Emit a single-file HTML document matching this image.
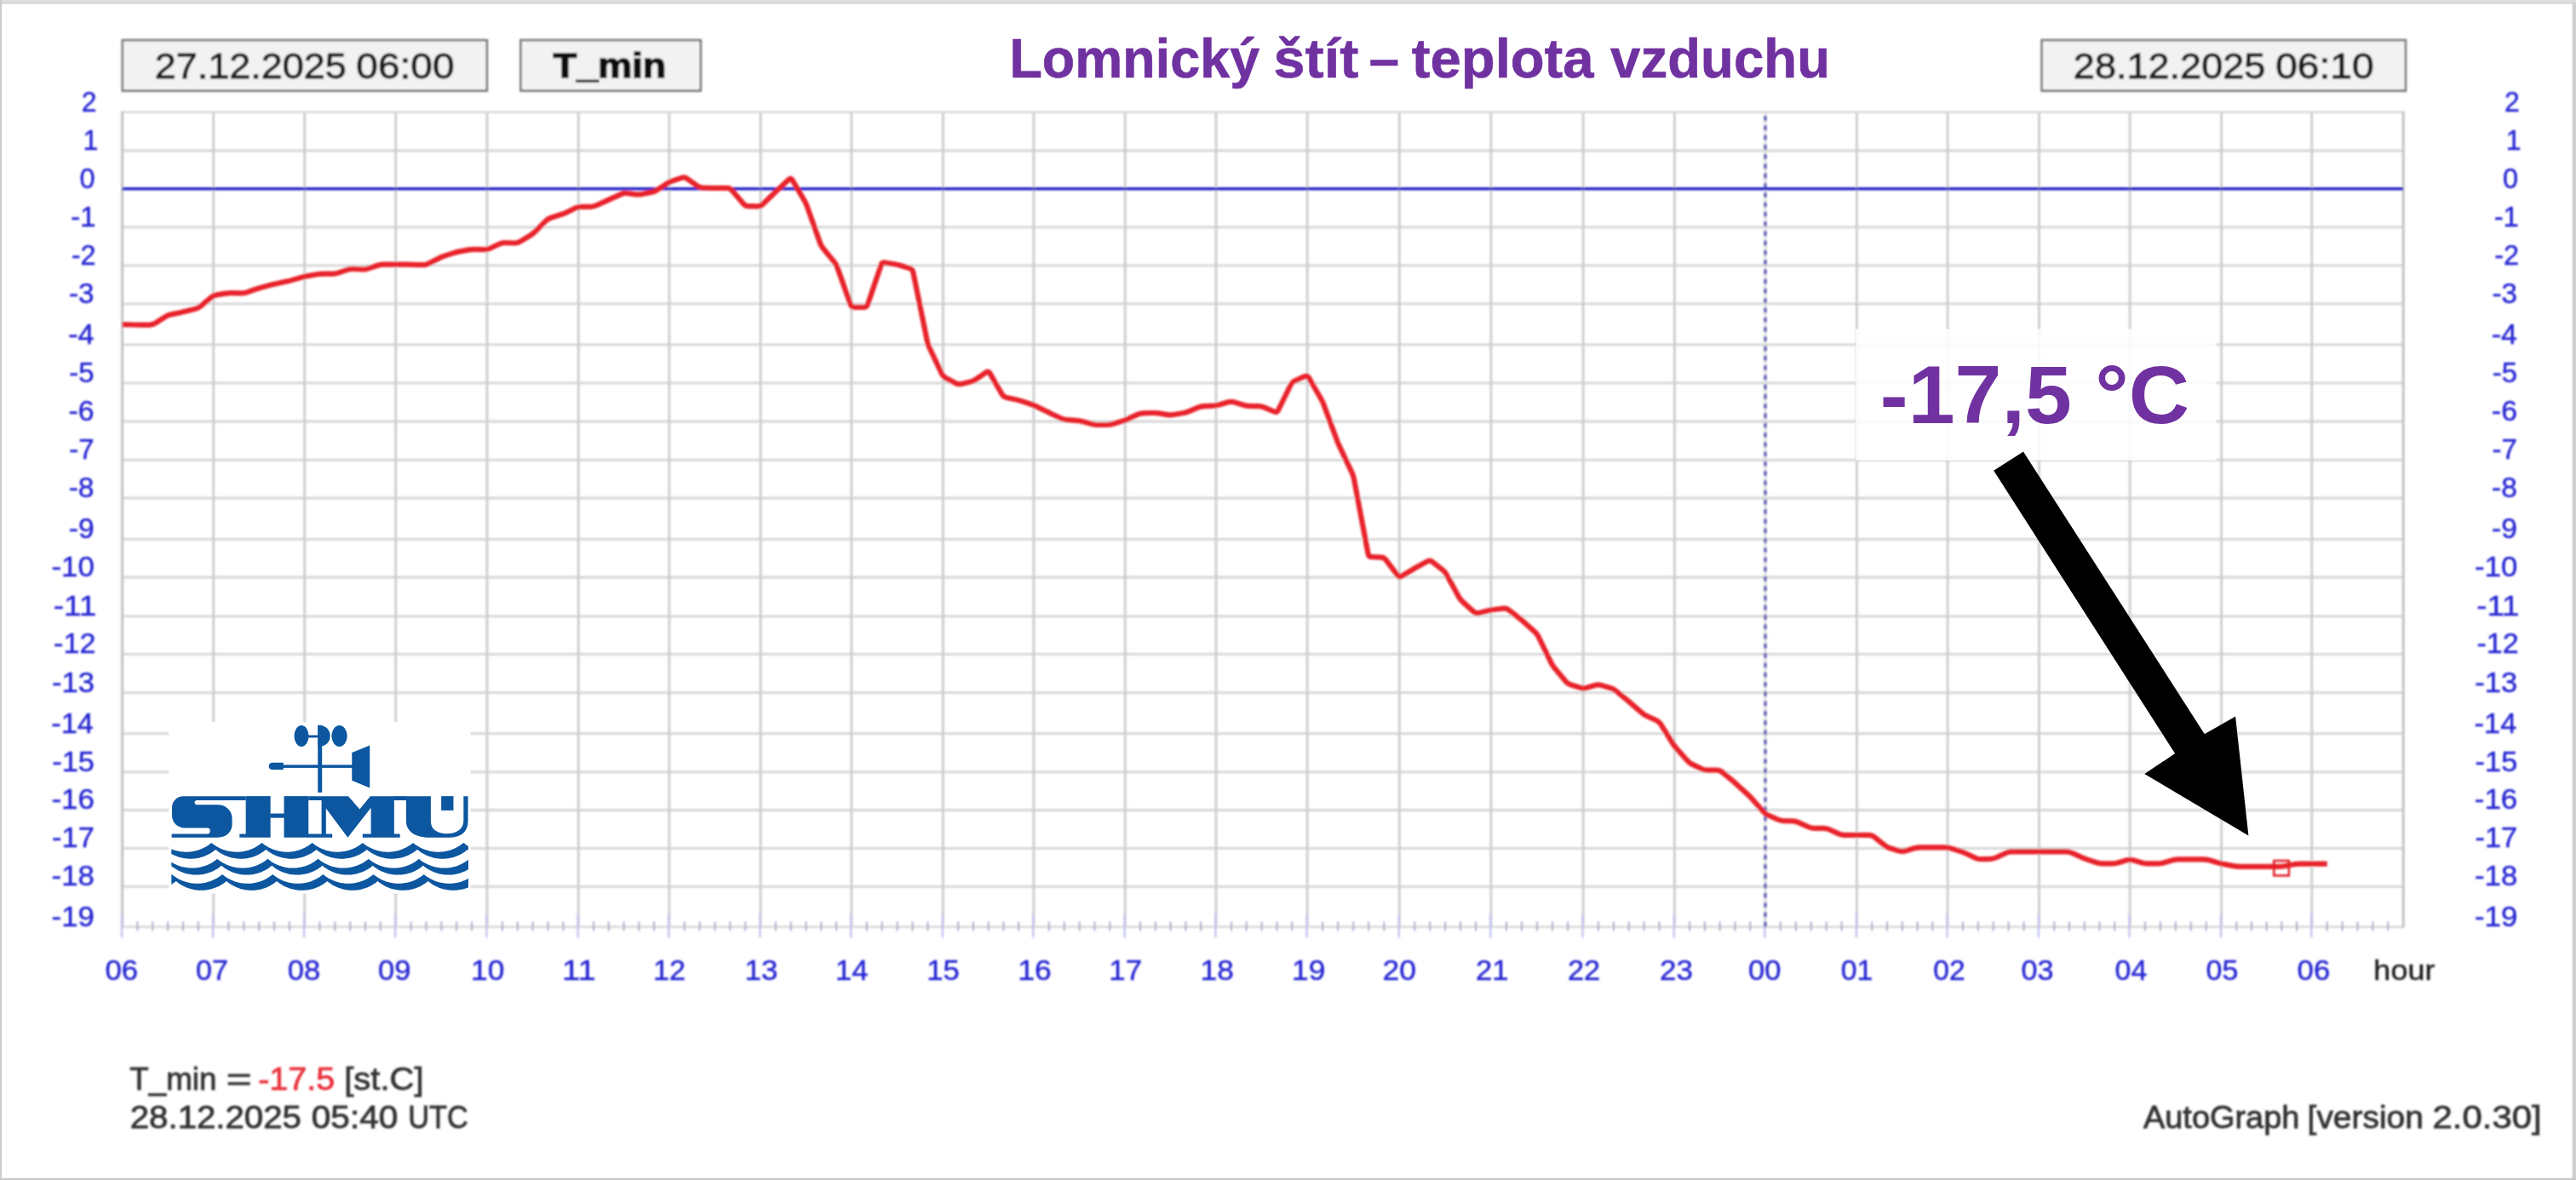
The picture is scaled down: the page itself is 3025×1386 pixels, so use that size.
<!DOCTYPE html>
<html><head><meta charset="utf-8"><title>Lomnický štít – teplota vzduchu</title>
<style>
html,body{margin:0;padding:0;background:#fff;}
body{width:3025px;height:1386px;overflow:hidden;font-family:"Liberation Sans",sans-serif;}
svg{display:block;font-family:"Liberation Sans",sans-serif;}
</style></head><body>
<svg width="3025" height="1386" viewBox="0 0 3025 1386">
<defs><filter id="soft" x="0" y="0" width="3025" height="1386" filterUnits="userSpaceOnUse"><feGaussianBlur stdDeviation="0.85"/></filter><filter id="soft2" x="0" y="0" width="3025" height="1386" filterUnits="userSpaceOnUse"><feGaussianBlur stdDeviation="0.45"/></filter></defs>
<rect x="0" y="0" width="3025" height="1386" fill="#ffffff"/>
<g id="frame">
<rect x="0" y="0" width="3025" height="2.6" fill="#dfdfdf"/>
<rect x="0" y="2.6" width="3025" height="1.8" fill="#cbcbcb"/>
<rect x="0" y="0" width="2" height="1386" fill="#cbcbcb"/>
<rect x="3020.6" y="3" width="4.4" height="1386" fill="#d0d0d0"/>
<rect x="0" y="1383.8" width="3025" height="2.2" fill="#c8c8c8"/>
</g>
<g id="chart" filter="url(#soft)">
<g id="grid" fill="none">
<line x1="143.6" y1="177.0" x2="2822.2" y2="177.0" stroke="#d5d5d5" stroke-width="2.8"/>
<line x1="143.6" y1="266.8" x2="2822.2" y2="266.8" stroke="#d5d5d5" stroke-width="2.8"/>
<line x1="143.6" y1="311.8" x2="2822.2" y2="311.8" stroke="#d5d5d5" stroke-width="2.8"/>
<line x1="143.6" y1="356.8" x2="2822.2" y2="356.8" stroke="#d5d5d5" stroke-width="2.8"/>
<line x1="143.6" y1="404.8" x2="2822.2" y2="404.8" stroke="#d5d5d5" stroke-width="2.8"/>
<line x1="143.6" y1="449.8" x2="2822.2" y2="449.8" stroke="#d5d5d5" stroke-width="2.8"/>
<line x1="143.6" y1="495.0" x2="2822.2" y2="495.0" stroke="#d5d5d5" stroke-width="2.8"/>
<line x1="143.6" y1="540.3" x2="2822.2" y2="540.3" stroke="#d5d5d5" stroke-width="2.8"/>
<line x1="143.6" y1="585.0" x2="2822.2" y2="585.0" stroke="#d5d5d5" stroke-width="2.8"/>
<line x1="143.6" y1="633.3" x2="2822.2" y2="633.3" stroke="#d5d5d5" stroke-width="2.8"/>
<line x1="143.6" y1="678.0" x2="2822.2" y2="678.0" stroke="#d5d5d5" stroke-width="2.8"/>
<line x1="143.6" y1="723.8" x2="2822.2" y2="723.8" stroke="#d5d5d5" stroke-width="2.8"/>
<line x1="143.6" y1="768.3" x2="2822.2" y2="768.3" stroke="#d5d5d5" stroke-width="2.8"/>
<line x1="143.6" y1="813.7" x2="2822.2" y2="813.7" stroke="#d5d5d5" stroke-width="2.8"/>
<line x1="143.6" y1="861.7" x2="2822.2" y2="861.7" stroke="#d5d5d5" stroke-width="2.8"/>
<line x1="143.6" y1="906.8" x2="2822.2" y2="906.8" stroke="#d5d5d5" stroke-width="2.8"/>
<line x1="143.6" y1="951.5" x2="2822.2" y2="951.5" stroke="#d5d5d5" stroke-width="2.8"/>
<line x1="143.6" y1="996.3" x2="2822.2" y2="996.3" stroke="#d5d5d5" stroke-width="2.8"/>
<line x1="143.6" y1="1041.3" x2="2822.2" y2="1041.3" stroke="#d5d5d5" stroke-width="2.8"/>
<line x1="250.7" y1="131.7" x2="250.7" y2="1088.8" stroke="#cccccc" stroke-width="2.8"/>
<line x1="357.7" y1="131.7" x2="357.7" y2="1088.8" stroke="#cccccc" stroke-width="2.8"/>
<line x1="464.7" y1="131.7" x2="464.7" y2="1088.8" stroke="#cccccc" stroke-width="2.8"/>
<line x1="572.0" y1="131.7" x2="572.0" y2="1088.8" stroke="#cccccc" stroke-width="2.8"/>
<line x1="679.3" y1="131.7" x2="679.3" y2="1088.8" stroke="#cccccc" stroke-width="2.8"/>
<line x1="785.9" y1="131.7" x2="785.9" y2="1088.8" stroke="#cccccc" stroke-width="2.8"/>
<line x1="893.1" y1="131.7" x2="893.1" y2="1088.8" stroke="#cccccc" stroke-width="2.8"/>
<line x1="999.9" y1="131.7" x2="999.9" y2="1088.8" stroke="#cccccc" stroke-width="2.8"/>
<line x1="1107.4" y1="131.7" x2="1107.4" y2="1088.8" stroke="#cccccc" stroke-width="2.8"/>
<line x1="1213.9" y1="131.7" x2="1213.9" y2="1088.8" stroke="#cccccc" stroke-width="2.8"/>
<line x1="1321.2" y1="131.7" x2="1321.2" y2="1088.8" stroke="#cccccc" stroke-width="2.8"/>
<line x1="1428.0" y1="131.7" x2="1428.0" y2="1088.8" stroke="#cccccc" stroke-width="2.8"/>
<line x1="1535.2" y1="131.7" x2="1535.2" y2="1088.8" stroke="#cccccc" stroke-width="2.8"/>
<line x1="1643.3" y1="131.7" x2="1643.3" y2="1088.8" stroke="#cccccc" stroke-width="2.8"/>
<line x1="1750.9" y1="131.7" x2="1750.9" y2="1088.8" stroke="#cccccc" stroke-width="2.8"/>
<line x1="1859.1" y1="131.7" x2="1859.1" y2="1088.8" stroke="#cccccc" stroke-width="2.8"/>
<line x1="1966.4" y1="131.7" x2="1966.4" y2="1088.8" stroke="#cccccc" stroke-width="2.8"/>
<line x1="2180.5" y1="131.7" x2="2180.5" y2="1088.8" stroke="#cccccc" stroke-width="2.8"/>
<line x1="2287.1" y1="131.7" x2="2287.1" y2="1088.8" stroke="#cccccc" stroke-width="2.8"/>
<line x1="2394.5" y1="131.7" x2="2394.5" y2="1088.8" stroke="#cccccc" stroke-width="2.8"/>
<line x1="2501.1" y1="131.7" x2="2501.1" y2="1088.8" stroke="#cccccc" stroke-width="2.8"/>
<line x1="2608.6" y1="131.7" x2="2608.6" y2="1088.8" stroke="#cccccc" stroke-width="2.8"/>
<line x1="2714.8" y1="131.7" x2="2714.8" y2="1088.8" stroke="#cccccc" stroke-width="2.8"/>
<line x1="143.6" y1="131.7" x2="2822.2" y2="131.7" stroke="#d8d8d8" stroke-width="2.6"/>
<line x1="143.6" y1="1088.8" x2="2822.2" y2="1088.8" stroke="#d8d8d8" stroke-width="2.6"/>
<line x1="143.6" y1="130.7" x2="143.6" y2="1089.8" stroke="#c2c2c2" stroke-width="3"/>
<line x1="2822.2" y1="130.7" x2="2822.2" y2="1089.8" stroke="#c2c2c2" stroke-width="3"/>
</g>
<g id="ticks">
<line x1="143.0" y1="1073" x2="143.0" y2="1101.5" stroke="#c0c0ee" stroke-width="2.3"/>
<line x1="250.1" y1="1073" x2="250.1" y2="1101.5" stroke="#c0c0ee" stroke-width="2.3"/>
<line x1="357.1" y1="1073" x2="357.1" y2="1101.5" stroke="#c0c0ee" stroke-width="2.3"/>
<line x1="464.1" y1="1073" x2="464.1" y2="1101.5" stroke="#c0c0ee" stroke-width="2.3"/>
<line x1="571.4" y1="1073" x2="571.4" y2="1101.5" stroke="#c0c0ee" stroke-width="2.3"/>
<line x1="678.7" y1="1073" x2="678.7" y2="1101.5" stroke="#c0c0ee" stroke-width="2.3"/>
<line x1="785.3" y1="1073" x2="785.3" y2="1101.5" stroke="#c0c0ee" stroke-width="2.3"/>
<line x1="892.5" y1="1073" x2="892.5" y2="1101.5" stroke="#c0c0ee" stroke-width="2.3"/>
<line x1="999.3" y1="1073" x2="999.3" y2="1101.5" stroke="#c0c0ee" stroke-width="2.3"/>
<line x1="1106.8" y1="1073" x2="1106.8" y2="1101.5" stroke="#c0c0ee" stroke-width="2.3"/>
<line x1="1213.3" y1="1073" x2="1213.3" y2="1101.5" stroke="#c0c0ee" stroke-width="2.3"/>
<line x1="1320.6" y1="1073" x2="1320.6" y2="1101.5" stroke="#c0c0ee" stroke-width="2.3"/>
<line x1="1427.4" y1="1073" x2="1427.4" y2="1101.5" stroke="#c0c0ee" stroke-width="2.3"/>
<line x1="1534.6" y1="1073" x2="1534.6" y2="1101.5" stroke="#c0c0ee" stroke-width="2.3"/>
<line x1="1642.7" y1="1073" x2="1642.7" y2="1101.5" stroke="#c0c0ee" stroke-width="2.3"/>
<line x1="1750.3" y1="1073" x2="1750.3" y2="1101.5" stroke="#c0c0ee" stroke-width="2.3"/>
<line x1="1858.5" y1="1073" x2="1858.5" y2="1101.5" stroke="#c0c0ee" stroke-width="2.3"/>
<line x1="1965.8" y1="1073" x2="1965.8" y2="1101.5" stroke="#c0c0ee" stroke-width="2.3"/>
<line x1="2072.4" y1="1073" x2="2072.4" y2="1101.5" stroke="#c0c0ee" stroke-width="2.3"/>
<line x1="2179.9" y1="1073" x2="2179.9" y2="1101.5" stroke="#c0c0ee" stroke-width="2.3"/>
<line x1="2286.5" y1="1073" x2="2286.5" y2="1101.5" stroke="#c0c0ee" stroke-width="2.3"/>
<line x1="2393.9" y1="1073" x2="2393.9" y2="1101.5" stroke="#c0c0ee" stroke-width="2.3"/>
<line x1="2500.5" y1="1073" x2="2500.5" y2="1101.5" stroke="#c0c0ee" stroke-width="2.3"/>
<line x1="2608.0" y1="1073" x2="2608.0" y2="1101.5" stroke="#c0c0ee" stroke-width="2.3"/>
<line x1="2714.2" y1="1073" x2="2714.2" y2="1101.5" stroke="#c0c0ee" stroke-width="2.3"/>
<line x1="161.4" y1="1082.5" x2="161.4" y2="1093.5" stroke="#a9a9cc" stroke-width="1.9"/>
<line x1="179.3" y1="1082.5" x2="179.3" y2="1093.5" stroke="#a9a9cc" stroke-width="1.9"/>
<line x1="197.1" y1="1082.5" x2="197.1" y2="1093.5" stroke="#a9a9cc" stroke-width="1.9"/>
<line x1="215.0" y1="1082.5" x2="215.0" y2="1093.5" stroke="#a9a9cc" stroke-width="1.9"/>
<line x1="232.8" y1="1082.5" x2="232.8" y2="1093.5" stroke="#a9a9cc" stroke-width="1.9"/>
<line x1="268.5" y1="1082.5" x2="268.5" y2="1093.5" stroke="#a9a9cc" stroke-width="1.9"/>
<line x1="286.4" y1="1082.5" x2="286.4" y2="1093.5" stroke="#a9a9cc" stroke-width="1.9"/>
<line x1="304.2" y1="1082.5" x2="304.2" y2="1093.5" stroke="#a9a9cc" stroke-width="1.9"/>
<line x1="322.0" y1="1082.5" x2="322.0" y2="1093.5" stroke="#a9a9cc" stroke-width="1.9"/>
<line x1="339.9" y1="1082.5" x2="339.9" y2="1093.5" stroke="#a9a9cc" stroke-width="1.9"/>
<line x1="375.5" y1="1082.5" x2="375.5" y2="1093.5" stroke="#a9a9cc" stroke-width="1.9"/>
<line x1="393.4" y1="1082.5" x2="393.4" y2="1093.5" stroke="#a9a9cc" stroke-width="1.9"/>
<line x1="411.2" y1="1082.5" x2="411.2" y2="1093.5" stroke="#a9a9cc" stroke-width="1.9"/>
<line x1="429.0" y1="1082.5" x2="429.0" y2="1093.5" stroke="#a9a9cc" stroke-width="1.9"/>
<line x1="446.9" y1="1082.5" x2="446.9" y2="1093.5" stroke="#a9a9cc" stroke-width="1.9"/>
<line x1="482.6" y1="1082.5" x2="482.6" y2="1093.5" stroke="#a9a9cc" stroke-width="1.9"/>
<line x1="500.5" y1="1082.5" x2="500.5" y2="1093.5" stroke="#a9a9cc" stroke-width="1.9"/>
<line x1="518.4" y1="1082.5" x2="518.4" y2="1093.5" stroke="#a9a9cc" stroke-width="1.9"/>
<line x1="536.2" y1="1082.5" x2="536.2" y2="1093.5" stroke="#a9a9cc" stroke-width="1.9"/>
<line x1="554.1" y1="1082.5" x2="554.1" y2="1093.5" stroke="#a9a9cc" stroke-width="1.9"/>
<line x1="589.9" y1="1082.5" x2="589.9" y2="1093.5" stroke="#a9a9cc" stroke-width="1.9"/>
<line x1="607.8" y1="1082.5" x2="607.8" y2="1093.5" stroke="#a9a9cc" stroke-width="1.9"/>
<line x1="625.6" y1="1082.5" x2="625.6" y2="1093.5" stroke="#a9a9cc" stroke-width="1.9"/>
<line x1="643.5" y1="1082.5" x2="643.5" y2="1093.5" stroke="#a9a9cc" stroke-width="1.9"/>
<line x1="661.4" y1="1082.5" x2="661.4" y2="1093.5" stroke="#a9a9cc" stroke-width="1.9"/>
<line x1="697.1" y1="1082.5" x2="697.1" y2="1093.5" stroke="#a9a9cc" stroke-width="1.9"/>
<line x1="714.8" y1="1082.5" x2="714.8" y2="1093.5" stroke="#a9a9cc" stroke-width="1.9"/>
<line x1="732.6" y1="1082.5" x2="732.6" y2="1093.5" stroke="#a9a9cc" stroke-width="1.9"/>
<line x1="750.4" y1="1082.5" x2="750.4" y2="1093.5" stroke="#a9a9cc" stroke-width="1.9"/>
<line x1="768.1" y1="1082.5" x2="768.1" y2="1093.5" stroke="#a9a9cc" stroke-width="1.9"/>
<line x1="803.8" y1="1082.5" x2="803.8" y2="1093.5" stroke="#a9a9cc" stroke-width="1.9"/>
<line x1="821.6" y1="1082.5" x2="821.6" y2="1093.5" stroke="#a9a9cc" stroke-width="1.9"/>
<line x1="839.5" y1="1082.5" x2="839.5" y2="1093.5" stroke="#a9a9cc" stroke-width="1.9"/>
<line x1="857.4" y1="1082.5" x2="857.4" y2="1093.5" stroke="#a9a9cc" stroke-width="1.9"/>
<line x1="875.2" y1="1082.5" x2="875.2" y2="1093.5" stroke="#a9a9cc" stroke-width="1.9"/>
<line x1="910.9" y1="1082.5" x2="910.9" y2="1093.5" stroke="#a9a9cc" stroke-width="1.9"/>
<line x1="928.7" y1="1082.5" x2="928.7" y2="1093.5" stroke="#a9a9cc" stroke-width="1.9"/>
<line x1="946.5" y1="1082.5" x2="946.5" y2="1093.5" stroke="#a9a9cc" stroke-width="1.9"/>
<line x1="964.3" y1="1082.5" x2="964.3" y2="1093.5" stroke="#a9a9cc" stroke-width="1.9"/>
<line x1="982.1" y1="1082.5" x2="982.1" y2="1093.5" stroke="#a9a9cc" stroke-width="1.9"/>
<line x1="1017.8" y1="1082.5" x2="1017.8" y2="1093.5" stroke="#a9a9cc" stroke-width="1.9"/>
<line x1="1035.7" y1="1082.5" x2="1035.7" y2="1093.5" stroke="#a9a9cc" stroke-width="1.9"/>
<line x1="1053.7" y1="1082.5" x2="1053.7" y2="1093.5" stroke="#a9a9cc" stroke-width="1.9"/>
<line x1="1071.6" y1="1082.5" x2="1071.6" y2="1093.5" stroke="#a9a9cc" stroke-width="1.9"/>
<line x1="1089.5" y1="1082.5" x2="1089.5" y2="1093.5" stroke="#a9a9cc" stroke-width="1.9"/>
<line x1="1125.2" y1="1082.5" x2="1125.2" y2="1093.5" stroke="#a9a9cc" stroke-width="1.9"/>
<line x1="1142.9" y1="1082.5" x2="1142.9" y2="1093.5" stroke="#a9a9cc" stroke-width="1.9"/>
<line x1="1160.7" y1="1082.5" x2="1160.7" y2="1093.5" stroke="#a9a9cc" stroke-width="1.9"/>
<line x1="1178.4" y1="1082.5" x2="1178.4" y2="1093.5" stroke="#a9a9cc" stroke-width="1.9"/>
<line x1="1196.2" y1="1082.5" x2="1196.2" y2="1093.5" stroke="#a9a9cc" stroke-width="1.9"/>
<line x1="1231.8" y1="1082.5" x2="1231.8" y2="1093.5" stroke="#a9a9cc" stroke-width="1.9"/>
<line x1="1249.7" y1="1082.5" x2="1249.7" y2="1093.5" stroke="#a9a9cc" stroke-width="1.9"/>
<line x1="1267.6" y1="1082.5" x2="1267.6" y2="1093.5" stroke="#a9a9cc" stroke-width="1.9"/>
<line x1="1285.4" y1="1082.5" x2="1285.4" y2="1093.5" stroke="#a9a9cc" stroke-width="1.9"/>
<line x1="1303.3" y1="1082.5" x2="1303.3" y2="1093.5" stroke="#a9a9cc" stroke-width="1.9"/>
<line x1="1339.0" y1="1082.5" x2="1339.0" y2="1093.5" stroke="#a9a9cc" stroke-width="1.9"/>
<line x1="1356.8" y1="1082.5" x2="1356.8" y2="1093.5" stroke="#a9a9cc" stroke-width="1.9"/>
<line x1="1374.6" y1="1082.5" x2="1374.6" y2="1093.5" stroke="#a9a9cc" stroke-width="1.9"/>
<line x1="1392.4" y1="1082.5" x2="1392.4" y2="1093.5" stroke="#a9a9cc" stroke-width="1.9"/>
<line x1="1410.2" y1="1082.5" x2="1410.2" y2="1093.5" stroke="#a9a9cc" stroke-width="1.9"/>
<line x1="1445.9" y1="1082.5" x2="1445.9" y2="1093.5" stroke="#a9a9cc" stroke-width="1.9"/>
<line x1="1463.7" y1="1082.5" x2="1463.7" y2="1093.5" stroke="#a9a9cc" stroke-width="1.9"/>
<line x1="1481.6" y1="1082.5" x2="1481.6" y2="1093.5" stroke="#a9a9cc" stroke-width="1.9"/>
<line x1="1499.5" y1="1082.5" x2="1499.5" y2="1093.5" stroke="#a9a9cc" stroke-width="1.9"/>
<line x1="1517.3" y1="1082.5" x2="1517.3" y2="1093.5" stroke="#a9a9cc" stroke-width="1.9"/>
<line x1="1553.2" y1="1082.5" x2="1553.2" y2="1093.5" stroke="#a9a9cc" stroke-width="1.9"/>
<line x1="1571.2" y1="1082.5" x2="1571.2" y2="1093.5" stroke="#a9a9cc" stroke-width="1.9"/>
<line x1="1589.2" y1="1082.5" x2="1589.2" y2="1093.5" stroke="#a9a9cc" stroke-width="1.9"/>
<line x1="1607.3" y1="1082.5" x2="1607.3" y2="1093.5" stroke="#a9a9cc" stroke-width="1.9"/>
<line x1="1625.3" y1="1082.5" x2="1625.3" y2="1093.5" stroke="#a9a9cc" stroke-width="1.9"/>
<line x1="1661.2" y1="1082.5" x2="1661.2" y2="1093.5" stroke="#a9a9cc" stroke-width="1.9"/>
<line x1="1679.2" y1="1082.5" x2="1679.2" y2="1093.5" stroke="#a9a9cc" stroke-width="1.9"/>
<line x1="1697.1" y1="1082.5" x2="1697.1" y2="1093.5" stroke="#a9a9cc" stroke-width="1.9"/>
<line x1="1715.0" y1="1082.5" x2="1715.0" y2="1093.5" stroke="#a9a9cc" stroke-width="1.9"/>
<line x1="1733.0" y1="1082.5" x2="1733.0" y2="1093.5" stroke="#a9a9cc" stroke-width="1.9"/>
<line x1="1768.9" y1="1082.5" x2="1768.9" y2="1093.5" stroke="#a9a9cc" stroke-width="1.9"/>
<line x1="1787.0" y1="1082.5" x2="1787.0" y2="1093.5" stroke="#a9a9cc" stroke-width="1.9"/>
<line x1="1805.0" y1="1082.5" x2="1805.0" y2="1093.5" stroke="#a9a9cc" stroke-width="1.9"/>
<line x1="1823.0" y1="1082.5" x2="1823.0" y2="1093.5" stroke="#a9a9cc" stroke-width="1.9"/>
<line x1="1841.1" y1="1082.5" x2="1841.1" y2="1093.5" stroke="#a9a9cc" stroke-width="1.9"/>
<line x1="1877.0" y1="1082.5" x2="1877.0" y2="1093.5" stroke="#a9a9cc" stroke-width="1.9"/>
<line x1="1894.9" y1="1082.5" x2="1894.9" y2="1093.5" stroke="#a9a9cc" stroke-width="1.9"/>
<line x1="1912.8" y1="1082.5" x2="1912.8" y2="1093.5" stroke="#a9a9cc" stroke-width="1.9"/>
<line x1="1930.6" y1="1082.5" x2="1930.6" y2="1093.5" stroke="#a9a9cc" stroke-width="1.9"/>
<line x1="1948.5" y1="1082.5" x2="1948.5" y2="1093.5" stroke="#a9a9cc" stroke-width="1.9"/>
<line x1="1984.2" y1="1082.5" x2="1984.2" y2="1093.5" stroke="#a9a9cc" stroke-width="1.9"/>
<line x1="2001.9" y1="1082.5" x2="2001.9" y2="1093.5" stroke="#a9a9cc" stroke-width="1.9"/>
<line x1="2019.7" y1="1082.5" x2="2019.7" y2="1093.5" stroke="#a9a9cc" stroke-width="1.9"/>
<line x1="2037.5" y1="1082.5" x2="2037.5" y2="1093.5" stroke="#a9a9cc" stroke-width="1.9"/>
<line x1="2055.2" y1="1082.5" x2="2055.2" y2="1093.5" stroke="#a9a9cc" stroke-width="1.9"/>
<line x1="2090.9" y1="1082.5" x2="2090.9" y2="1093.5" stroke="#a9a9cc" stroke-width="1.9"/>
<line x1="2108.8" y1="1082.5" x2="2108.8" y2="1093.5" stroke="#a9a9cc" stroke-width="1.9"/>
<line x1="2126.8" y1="1082.5" x2="2126.8" y2="1093.5" stroke="#a9a9cc" stroke-width="1.9"/>
<line x1="2144.7" y1="1082.5" x2="2144.7" y2="1093.5" stroke="#a9a9cc" stroke-width="1.9"/>
<line x1="2162.6" y1="1082.5" x2="2162.6" y2="1093.5" stroke="#a9a9cc" stroke-width="1.9"/>
<line x1="2198.3" y1="1082.5" x2="2198.3" y2="1093.5" stroke="#a9a9cc" stroke-width="1.9"/>
<line x1="2216.0" y1="1082.5" x2="2216.0" y2="1093.5" stroke="#a9a9cc" stroke-width="1.9"/>
<line x1="2233.8" y1="1082.5" x2="2233.8" y2="1093.5" stroke="#a9a9cc" stroke-width="1.9"/>
<line x1="2251.6" y1="1082.5" x2="2251.6" y2="1093.5" stroke="#a9a9cc" stroke-width="1.9"/>
<line x1="2269.3" y1="1082.5" x2="2269.3" y2="1093.5" stroke="#a9a9cc" stroke-width="1.9"/>
<line x1="2305.0" y1="1082.5" x2="2305.0" y2="1093.5" stroke="#a9a9cc" stroke-width="1.9"/>
<line x1="2322.9" y1="1082.5" x2="2322.9" y2="1093.5" stroke="#a9a9cc" stroke-width="1.9"/>
<line x1="2340.8" y1="1082.5" x2="2340.8" y2="1093.5" stroke="#a9a9cc" stroke-width="1.9"/>
<line x1="2358.7" y1="1082.5" x2="2358.7" y2="1093.5" stroke="#a9a9cc" stroke-width="1.9"/>
<line x1="2376.6" y1="1082.5" x2="2376.6" y2="1093.5" stroke="#a9a9cc" stroke-width="1.9"/>
<line x1="2412.3" y1="1082.5" x2="2412.3" y2="1093.5" stroke="#a9a9cc" stroke-width="1.9"/>
<line x1="2430.0" y1="1082.5" x2="2430.0" y2="1093.5" stroke="#a9a9cc" stroke-width="1.9"/>
<line x1="2447.8" y1="1082.5" x2="2447.8" y2="1093.5" stroke="#a9a9cc" stroke-width="1.9"/>
<line x1="2465.6" y1="1082.5" x2="2465.6" y2="1093.5" stroke="#a9a9cc" stroke-width="1.9"/>
<line x1="2483.3" y1="1082.5" x2="2483.3" y2="1093.5" stroke="#a9a9cc" stroke-width="1.9"/>
<line x1="2519.0" y1="1082.5" x2="2519.0" y2="1093.5" stroke="#a9a9cc" stroke-width="1.9"/>
<line x1="2536.9" y1="1082.5" x2="2536.9" y2="1093.5" stroke="#a9a9cc" stroke-width="1.9"/>
<line x1="2554.8" y1="1082.5" x2="2554.8" y2="1093.5" stroke="#a9a9cc" stroke-width="1.9"/>
<line x1="2572.8" y1="1082.5" x2="2572.8" y2="1093.5" stroke="#a9a9cc" stroke-width="1.9"/>
<line x1="2590.7" y1="1082.5" x2="2590.7" y2="1093.5" stroke="#a9a9cc" stroke-width="1.9"/>
<line x1="2626.3" y1="1082.5" x2="2626.3" y2="1093.5" stroke="#a9a9cc" stroke-width="1.9"/>
<line x1="2644.0" y1="1082.5" x2="2644.0" y2="1093.5" stroke="#a9a9cc" stroke-width="1.9"/>
<line x1="2661.7" y1="1082.5" x2="2661.7" y2="1093.5" stroke="#a9a9cc" stroke-width="1.9"/>
<line x1="2679.4" y1="1082.5" x2="2679.4" y2="1093.5" stroke="#a9a9cc" stroke-width="1.9"/>
<line x1="2697.1" y1="1082.5" x2="2697.1" y2="1093.5" stroke="#a9a9cc" stroke-width="1.9"/>
<line x1="2732.7" y1="1082.5" x2="2732.7" y2="1093.5" stroke="#a9a9cc" stroke-width="1.9"/>
<line x1="2750.6" y1="1082.5" x2="2750.6" y2="1093.5" stroke="#a9a9cc" stroke-width="1.9"/>
<line x1="2768.5" y1="1082.5" x2="2768.5" y2="1093.5" stroke="#a9a9cc" stroke-width="1.9"/>
<line x1="2786.4" y1="1082.5" x2="2786.4" y2="1093.5" stroke="#a9a9cc" stroke-width="1.9"/>
<line x1="2804.3" y1="1082.5" x2="2804.3" y2="1093.5" stroke="#a9a9cc" stroke-width="1.9"/>
</g>
<line x1="2073" y1="131.7" x2="2073" y2="1088.8" stroke="#dcdcdc" stroke-width="2.8"/>
<line x1="2073" y1="131.7" x2="2073" y2="1088.8" stroke="#6262b8" stroke-width="3.4" stroke-dasharray="5.9 5.37" stroke-dashoffset="-4.3"/>
<line x1="143.6" y1="221.8" x2="2822.2" y2="221.8" stroke="#2828c6" stroke-width="3.4"/>
<path id="curve" d="M143.6,381.1 L157.9,381.5 Q161.4,381.6 165.0,381.6 L175.7,381.6 Q179.3,381.6 182.3,379.7 L194.1,372.1 Q197.1,370.1 200.7,369.4 L211.5,367.2 Q215.0,366.5 218.5,365.6 L229.4,362.8 Q232.8,361.9 235.6,359.6 L247.9,349.4 Q250.7,347.1 254.2,346.4 L265.0,344.6 Q268.5,344.0 272.1,344.1 L282.8,344.4 Q286.4,344.5 289.8,343.3 L300.8,339.5 Q304.2,338.3 307.7,337.4 L318.5,334.6 Q322.0,333.7 325.6,333.0 L336.3,330.6 Q339.9,329.9 343.3,328.9 L354.2,325.8 Q357.7,324.8 361.2,324.1 L372.0,322.3 Q375.5,321.7 379.1,321.7 L389.8,321.7 Q393.4,321.7 396.8,320.6 L407.8,316.9 Q411.2,315.8 414.8,315.9 L425.4,316.4 Q429.0,316.6 432.5,315.4 L443.4,311.8 Q446.9,310.7 450.5,310.7 L461.1,310.7 Q464.7,310.7 468.3,310.7 L479.0,310.7 Q482.6,310.7 486.2,310.8 L496.9,311.1 Q500.5,311.2 503.6,309.5 L515.2,303.4 Q518.4,301.7 521.8,300.6 L532.8,297.1 Q536.2,296.1 539.8,295.4 L550.6,293.4 Q554.1,292.7 557.7,292.8 L568.4,293.1 Q572.0,293.2 575.3,291.7 L586.6,286.5 Q589.9,285.0 593.5,285.2 L604.2,285.5 Q607.8,285.6 610.9,283.7 L622.6,276.7 Q625.6,274.8 628.2,272.2 L641.0,259.4 Q643.5,256.9 647.0,255.8 L658.0,252.3 Q661.4,251.2 664.7,249.7 L676.0,244.3 Q679.3,242.8 682.9,242.8 L693.5,242.8 Q697.1,242.8 700.3,241.3 L711.6,236.1 Q714.8,234.6 718.1,233.1 L729.3,228.1 Q732.6,226.6 736.2,227.0 L746.8,228.3 Q750.4,228.7 753.9,228.0 L764.6,225.9 Q768.1,225.3 771.2,223.3 L782.9,215.8 Q785.9,213.9 789.3,212.7 L800.4,208.8 Q803.8,207.6 806.7,209.7 L818.7,218.3 Q821.6,220.4 825.2,220.5 L835.9,220.8 Q839.5,220.9 843.1,220.9 L853.8,220.9 Q857.4,220.9 859.7,223.7 L872.9,239.3 Q875.2,242.1 878.8,242.1 L889.5,242.3 Q893.1,242.3 895.7,239.9 L908.3,227.8 Q910.9,225.3 913.5,222.8 L926.1,210.9 Q928.7,208.4 930.5,211.5 L944.7,235.7 Q946.5,238.8 947.7,242.2 L963.1,285.6 Q964.3,289.0 966.6,291.8 L979.8,307.9 Q982.1,310.7 983.3,314.1 L998.7,357.5 Q999.9,360.9 1003.5,360.9 L1014.2,360.9 Q1017.8,360.9 1019.0,357.5 L1034.6,311.4 Q1035.7,308.0 1039.3,308.5 L1050.1,310.2 Q1053.7,310.7 1057.1,311.7 L1068.1,315.1 Q1071.6,316.1 1072.3,319.6 L1088.8,400.7 Q1089.5,404.3 1091.0,407.5 L1105.9,439.0 Q1107.4,442.2 1110.6,443.9 L1122.0,450.0 Q1125.2,451.7 1128.7,450.9 L1139.4,448.5 Q1142.9,447.7 1145.9,445.6 L1157.7,437.5 Q1160.7,435.5 1162.5,438.6 L1176.6,463.0 Q1178.4,466.1 1181.9,466.9 L1192.6,469.2 Q1196.2,470.0 1199.6,471.1 L1210.5,474.8 Q1213.9,475.9 1217.1,477.5 L1228.5,483.0 Q1231.8,484.6 1235.0,486.2 L1246.4,491.5 Q1249.7,493.0 1253.3,493.2 L1264.0,493.9 Q1267.6,494.1 1271.0,495.1 L1282.0,498.0 Q1285.4,499.0 1289.0,499.0 L1299.7,499.0 Q1303.3,499.0 1306.8,498.0 L1317.8,494.6 Q1321.2,493.6 1324.5,492.1 L1335.7,486.9 Q1339.0,485.4 1342.6,485.3 L1353.2,485.0 Q1356.8,484.9 1360.4,485.4 L1371.0,487.1 Q1374.6,487.6 1378.2,487.0 L1388.8,485.2 Q1392.4,484.6 1395.7,483.3 L1406.9,478.7 Q1410.2,477.3 1413.8,477.1 L1424.4,476.6 Q1428.0,476.5 1431.5,475.5 L1442.4,472.3 Q1445.9,471.3 1449.3,472.4 L1460.3,475.7 Q1463.7,476.8 1467.3,476.9 L1478.0,477.2 Q1481.6,477.3 1484.9,478.7 L1496.2,483.5 Q1499.5,484.9 1501.1,481.7 L1515.7,452.0 Q1517.3,448.8 1520.6,447.3 L1531.9,442.2 Q1535.2,440.7 1537.0,443.8 L1551.4,468.8 Q1553.2,471.9 1554.5,475.3 L1570.0,517.3 Q1571.2,520.7 1572.8,523.9 L1587.7,555.4 Q1589.2,558.7 1589.9,562.2 L1606.6,650.6 Q1607.3,654.1 1610.9,654.2 L1621.7,654.6 Q1625.3,654.7 1627.5,657.6 L1641.1,675.6 Q1643.3,678.4 1646.4,676.5 L1658.2,669.3 Q1661.2,667.4 1664.4,665.7 L1676.0,659.4 Q1679.2,657.7 1682.0,659.9 L1694.3,669.7 Q1697.1,671.9 1698.8,675.1 L1713.3,701.4 Q1715.0,704.5 1717.7,706.9 L1730.3,718.4 Q1733.0,720.8 1736.5,720.0 L1747.4,717.2 Q1750.9,716.4 1754.5,716.0 L1765.4,714.7 Q1768.9,714.3 1771.8,716.5 L1784.1,726.0 Q1787.0,728.2 1789.6,730.7 L1802.3,742.1 Q1805.0,744.6 1806.6,747.8 L1821.5,778.4 Q1823.0,781.6 1825.3,784.4 L1838.8,800.5 Q1841.1,803.3 1844.5,804.3 L1855.7,807.8 Q1859.1,808.9 1862.6,807.9 L1873.5,804.8 Q1877.0,803.9 1880.4,804.9 L1891.4,808.2 Q1894.9,809.2 1897.6,811.5 L1910.0,821.7 Q1912.8,824.0 1915.5,826.4 L1927.9,837.1 Q1930.6,839.5 1933.9,841.0 L1945.3,846.2 Q1948.5,847.8 1950.4,850.8 L1964.5,873.5 Q1966.4,876.5 1968.8,879.2 L1981.8,893.7 Q1984.2,896.4 1987.4,897.9 L1998.7,903.2 Q2001.9,904.7 2005.5,904.7 L2016.1,904.7 Q2019.7,904.7 2022.5,907.0 L2034.7,917.2 Q2037.5,919.5 2040.1,922.0 L2052.6,933.4 Q2055.2,935.8 2057.6,938.5 L2070.6,953.3 Q2073.0,956.0 2076.3,957.5 L2087.6,962.5 Q2090.9,963.9 2094.5,964.1 L2105.2,964.4 Q2108.8,964.6 2112.1,966.1 L2123.5,971.3 Q2126.8,972.8 2130.3,972.8 L2141.1,972.8 Q2144.7,972.8 2147.9,974.3 L2159.3,979.4 Q2162.6,980.9 2166.2,980.9 L2176.9,980.9 Q2180.5,980.9 2184.1,980.9 L2194.7,980.9 Q2198.3,980.9 2201.1,983.1 L2213.2,993.0 Q2216.0,995.3 2219.5,996.3 L2230.3,999.4 Q2233.8,1000.4 2237.3,999.4 L2248.1,996.3 Q2251.6,995.3 2255.2,995.3 L2265.7,995.3 Q2269.3,995.3 2272.9,995.3 L2283.5,995.3 Q2287.1,995.3 2290.5,996.4 L2301.6,999.7 Q2305.0,1000.7 2308.2,1002.3 L2319.7,1007.7 Q2322.9,1009.3 2326.5,1009.2 L2337.2,1008.9 Q2340.8,1008.8 2344.1,1007.3 L2355.4,1002.0 Q2358.7,1000.4 2362.3,1000.4 L2373.0,1000.4 Q2376.6,1000.4 2380.2,1000.4 L2390.9,1000.4 Q2394.5,1000.4 2398.1,1000.4 L2408.7,1000.4 Q2412.3,1000.4 2415.9,1000.4 L2426.4,1000.4 Q2430.0,1000.4 2433.3,1001.9 L2444.5,1007.0 Q2447.8,1008.5 2451.2,1009.6 L2462.2,1013.3 Q2465.6,1014.4 2469.2,1014.4 L2479.7,1014.4 Q2483.3,1014.4 2486.8,1013.4 L2497.6,1010.3 Q2501.1,1009.3 2504.6,1010.3 L2515.6,1013.4 Q2519.0,1014.4 2522.6,1014.4 L2533.3,1014.4 Q2536.9,1014.4 2540.4,1013.4 L2551.4,1010.3 Q2554.8,1009.3 2558.4,1009.3 L2569.2,1009.3 Q2572.8,1009.3 2576.4,1009.3 L2587.1,1009.3 Q2590.7,1009.3 2594.1,1010.3 L2605.1,1013.4 Q2608.6,1014.4 2612.1,1015.1 L2622.8,1017.1 Q2626.3,1017.8 2629.9,1017.8 L2640.4,1017.8 Q2644.0,1017.8 2647.6,1017.8 L2658.1,1017.8 Q2661.7,1017.8 2665.3,1017.8 L2675.8,1017.8 Q2679.4,1017.8 2682.9,1017.2 L2693.6,1015.3 Q2697.1,1014.7 2700.7,1014.7 L2711.2,1014.7 Q2714.8,1014.7 2718.4,1014.7 L2732.7,1014.7" fill="none" stroke="#e8222a" stroke-width="6.2" stroke-linejoin="round" stroke-linecap="butt"/>
<rect x="2670.3" y="1011" width="17.6" height="17.4" fill="none" stroke="#e02028" stroke-width="2.6"/>
<rect x="144.0" y="47.3" width="427.7" height="59.2" fill="#f2f2f2" stroke="#808080" stroke-width="3.1"/>
<rect x="146.2" y="49.5" width="423.3" height="54.8" fill="none" stroke="#fcfcfc" stroke-width="1.5"/>
<rect x="611.7" y="47.3" width="211.0" height="59.2" fill="#f2f2f2" stroke="#808080" stroke-width="3.1"/>
<rect x="613.9" y="49.5" width="206.6" height="54.8" fill="none" stroke="#fcfcfc" stroke-width="1.5"/>
<rect x="2397.8" y="47.3" width="427.0" height="59.2" fill="#f2f2f2" stroke="#808080" stroke-width="3.1"/>
<rect x="2400.0" y="49.5" width="422.6" height="54.8" fill="none" stroke="#fcfcfc" stroke-width="1.5"/>
<text x="181.74" y="91.5" font-size="41.6" fill="#1c1c1c" font-weight="normal" textLength="225.01" lengthAdjust="spacingAndGlyphs" stroke="#161616" stroke-width="1.0">27.12.2025</text>
<text x="418.39" y="91.5" font-size="41.6" fill="#1c1c1c" font-weight="normal" textLength="115.12" lengthAdjust="spacingAndGlyphs" stroke="#161616" stroke-width="1.0">06:00</text>
<text x="649.80" y="91.3" font-size="40.6" fill="#0c0c0c" font-weight="bold" textLength="132.37" lengthAdjust="spacingAndGlyphs" stroke="#0c0c0c" stroke-width="1.6">T_min</text>
<text x="2434.83" y="91.5" font-size="41.6" fill="#1c1c1c" font-weight="normal" textLength="225.52" lengthAdjust="spacingAndGlyphs" stroke="#161616" stroke-width="1.0">28.12.2025</text>
<text x="2672.18" y="91.5" font-size="41.6" fill="#1c1c1c" font-weight="normal" textLength="115.43" lengthAdjust="spacingAndGlyphs" stroke="#161616" stroke-width="1.0">06:10</text>
<text x="95.67" y="130.5" font-size="32.8" fill="#2424d2" font-weight="normal" textLength="17.74" lengthAdjust="spacingAndGlyphs" stroke="#2424d2" stroke-width="0.4">2</text>
<text x="2941.07" y="130.5" font-size="32.8" fill="#2424d2" font-weight="normal" textLength="17.74" lengthAdjust="spacingAndGlyphs" stroke="#2424d2" stroke-width="0.4">2</text>
<text x="97.40" y="175.8" font-size="32.8" fill="#2424d2" font-weight="normal" textLength="17.82" lengthAdjust="spacingAndGlyphs" stroke="#2424d2" stroke-width="0.4">1</text>
<text x="2942.80" y="175.8" font-size="32.8" fill="#2424d2" font-weight="normal" textLength="17.82" lengthAdjust="spacingAndGlyphs" stroke="#2424d2" stroke-width="0.4">1</text>
<text x="93.53" y="220.6" font-size="32.8" fill="#2424d2" font-weight="normal" textLength="18.11" lengthAdjust="spacingAndGlyphs" stroke="#2424d2" stroke-width="0.4">0</text>
<text x="2938.93" y="220.6" font-size="32.8" fill="#2424d2" font-weight="normal" textLength="18.11" lengthAdjust="spacingAndGlyphs" stroke="#2424d2" stroke-width="0.4">0</text>
<text x="83.24" y="265.6" font-size="32.8" fill="#2424d2" font-weight="normal" textLength="29.13" lengthAdjust="spacingAndGlyphs" stroke="#2424d2" stroke-width="0.4">-1</text>
<text x="2928.64" y="265.6" font-size="32.8" fill="#2424d2" font-weight="normal" textLength="29.13" lengthAdjust="spacingAndGlyphs" stroke="#2424d2" stroke-width="0.4">-1</text>
<text x="83.79" y="310.6" font-size="32.8" fill="#2424d2" font-weight="normal" textLength="28.87" lengthAdjust="spacingAndGlyphs" stroke="#2424d2" stroke-width="0.4">-2</text>
<text x="2929.19" y="310.6" font-size="32.8" fill="#2424d2" font-weight="normal" textLength="28.87" lengthAdjust="spacingAndGlyphs" stroke="#2424d2" stroke-width="0.4">-2</text>
<text x="81.04" y="355.6" font-size="32.8" fill="#2424d2" font-weight="normal" textLength="29.55" lengthAdjust="spacingAndGlyphs" stroke="#2424d2" stroke-width="0.4">-3</text>
<text x="2926.44" y="355.6" font-size="32.8" fill="#2424d2" font-weight="normal" textLength="29.55" lengthAdjust="spacingAndGlyphs" stroke="#2424d2" stroke-width="0.4">-3</text>
<text x="80.26" y="403.6" font-size="32.8" fill="#2424d2" font-weight="normal" textLength="30.36" lengthAdjust="spacingAndGlyphs" stroke="#2424d2" stroke-width="0.4">-4</text>
<text x="2925.66" y="403.6" font-size="32.8" fill="#2424d2" font-weight="normal" textLength="30.36" lengthAdjust="spacingAndGlyphs" stroke="#2424d2" stroke-width="0.4">-4</text>
<text x="81.28" y="448.6" font-size="32.8" fill="#2424d2" font-weight="normal" textLength="29.30" lengthAdjust="spacingAndGlyphs" stroke="#2424d2" stroke-width="0.4">-5</text>
<text x="2926.68" y="448.6" font-size="32.8" fill="#2424d2" font-weight="normal" textLength="29.30" lengthAdjust="spacingAndGlyphs" stroke="#2424d2" stroke-width="0.4">-5</text>
<text x="80.48" y="493.8" font-size="32.8" fill="#2424d2" font-weight="normal" textLength="30.13" lengthAdjust="spacingAndGlyphs" stroke="#2424d2" stroke-width="0.4">-6</text>
<text x="2925.88" y="493.8" font-size="32.8" fill="#2424d2" font-weight="normal" textLength="30.13" lengthAdjust="spacingAndGlyphs" stroke="#2424d2" stroke-width="0.4">-6</text>
<text x="81.22" y="539.1" font-size="32.8" fill="#2424d2" font-weight="normal" textLength="29.36" lengthAdjust="spacingAndGlyphs" stroke="#2424d2" stroke-width="0.4">-7</text>
<text x="2926.62" y="539.1" font-size="32.8" fill="#2424d2" font-weight="normal" textLength="29.36" lengthAdjust="spacingAndGlyphs" stroke="#2424d2" stroke-width="0.4">-7</text>
<text x="80.66" y="583.8" font-size="32.8" fill="#2424d2" font-weight="normal" textLength="29.95" lengthAdjust="spacingAndGlyphs" stroke="#2424d2" stroke-width="0.4">-8</text>
<text x="2926.06" y="583.8" font-size="32.8" fill="#2424d2" font-weight="normal" textLength="29.95" lengthAdjust="spacingAndGlyphs" stroke="#2424d2" stroke-width="0.4">-8</text>
<text x="80.72" y="632.1" font-size="32.8" fill="#2424d2" font-weight="normal" textLength="29.88" lengthAdjust="spacingAndGlyphs" stroke="#2424d2" stroke-width="0.4">-9</text>
<text x="2926.12" y="632.1" font-size="32.8" fill="#2424d2" font-weight="normal" textLength="29.88" lengthAdjust="spacingAndGlyphs" stroke="#2424d2" stroke-width="0.4">-9</text>
<text x="60.52" y="676.8" font-size="32.8" fill="#2424d2" font-weight="normal" textLength="50.38" lengthAdjust="spacingAndGlyphs" stroke="#2424d2" stroke-width="0.4">-10</text>
<text x="2905.92" y="676.8" font-size="32.8" fill="#2424d2" font-weight="normal" textLength="50.38" lengthAdjust="spacingAndGlyphs" stroke="#2424d2" stroke-width="0.4">-10</text>
<text x="62.78" y="722.6" font-size="32.8" fill="#2424d2" font-weight="normal" textLength="50.33" lengthAdjust="spacingAndGlyphs" stroke="#2424d2" stroke-width="0.4">-11</text>
<text x="2908.18" y="722.6" font-size="32.8" fill="#2424d2" font-weight="normal" textLength="50.33" lengthAdjust="spacingAndGlyphs" stroke="#2424d2" stroke-width="0.4">-11</text>
<text x="63.10" y="767.1" font-size="32.8" fill="#2424d2" font-weight="normal" textLength="49.26" lengthAdjust="spacingAndGlyphs" stroke="#2424d2" stroke-width="0.4">-12</text>
<text x="2908.50" y="767.1" font-size="32.8" fill="#2424d2" font-weight="normal" textLength="49.26" lengthAdjust="spacingAndGlyphs" stroke="#2424d2" stroke-width="0.4">-12</text>
<text x="60.96" y="812.5" font-size="32.8" fill="#2424d2" font-weight="normal" textLength="49.92" lengthAdjust="spacingAndGlyphs" stroke="#2424d2" stroke-width="0.4">-13</text>
<text x="2906.36" y="812.5" font-size="32.8" fill="#2424d2" font-weight="normal" textLength="49.92" lengthAdjust="spacingAndGlyphs" stroke="#2424d2" stroke-width="0.4">-13</text>
<text x="60.21" y="860.5" font-size="32.8" fill="#2424d2" font-weight="normal" textLength="49.61" lengthAdjust="spacingAndGlyphs" stroke="#2424d2" stroke-width="0.4">-14</text>
<text x="2905.61" y="860.5" font-size="32.8" fill="#2424d2" font-weight="normal" textLength="49.61" lengthAdjust="spacingAndGlyphs" stroke="#2424d2" stroke-width="0.4">-14</text>
<text x="61.19" y="905.6" font-size="32.8" fill="#2424d2" font-weight="normal" textLength="49.68" lengthAdjust="spacingAndGlyphs" stroke="#2424d2" stroke-width="0.4">-15</text>
<text x="2906.59" y="905.6" font-size="32.8" fill="#2424d2" font-weight="normal" textLength="49.68" lengthAdjust="spacingAndGlyphs" stroke="#2424d2" stroke-width="0.4">-15</text>
<text x="60.41" y="950.3" font-size="32.8" fill="#2424d2" font-weight="normal" textLength="50.49" lengthAdjust="spacingAndGlyphs" stroke="#2424d2" stroke-width="0.4">-16</text>
<text x="2905.81" y="950.3" font-size="32.8" fill="#2424d2" font-weight="normal" textLength="50.49" lengthAdjust="spacingAndGlyphs" stroke="#2424d2" stroke-width="0.4">-16</text>
<text x="61.13" y="995.1" font-size="32.8" fill="#2424d2" font-weight="normal" textLength="49.74" lengthAdjust="spacingAndGlyphs" stroke="#2424d2" stroke-width="0.4">-17</text>
<text x="2906.53" y="995.1" font-size="32.8" fill="#2424d2" font-weight="normal" textLength="49.74" lengthAdjust="spacingAndGlyphs" stroke="#2424d2" stroke-width="0.4">-17</text>
<text x="60.58" y="1040.1" font-size="32.8" fill="#2424d2" font-weight="normal" textLength="50.31" lengthAdjust="spacingAndGlyphs" stroke="#2424d2" stroke-width="0.4">-18</text>
<text x="2905.98" y="1040.1" font-size="32.8" fill="#2424d2" font-weight="normal" textLength="50.31" lengthAdjust="spacingAndGlyphs" stroke="#2424d2" stroke-width="0.4">-18</text>
<text x="60.64" y="1087.6" font-size="32.8" fill="#2424d2" font-weight="normal" textLength="50.25" lengthAdjust="spacingAndGlyphs" stroke="#2424d2" stroke-width="0.4">-19</text>
<text x="2906.04" y="1087.6" font-size="32.8" fill="#2424d2" font-weight="normal" textLength="50.25" lengthAdjust="spacingAndGlyphs" stroke="#2424d2" stroke-width="0.4">-19</text>
<text x="123.43" y="1150.5" font-size="32.8" fill="#2424d2" font-weight="normal" textLength="38.65" lengthAdjust="spacingAndGlyphs" stroke="#2424d2" stroke-width="0.4">06</text>
<text x="230.00" y="1150.5" font-size="32.8" fill="#2424d2" font-weight="normal" textLength="37.89" lengthAdjust="spacingAndGlyphs" stroke="#2424d2" stroke-width="0.4">07</text>
<text x="337.82" y="1150.5" font-size="32.8" fill="#2424d2" font-weight="normal" textLength="38.47" lengthAdjust="spacingAndGlyphs" stroke="#2424d2" stroke-width="0.4">08</text>
<text x="444.05" y="1150.5" font-size="32.8" fill="#2424d2" font-weight="normal" textLength="38.41" lengthAdjust="spacingAndGlyphs" stroke="#2424d2" stroke-width="0.4">09</text>
<text x="553.00" y="1150.5" font-size="32.8" fill="#2424d2" font-weight="normal" textLength="39.37" lengthAdjust="spacingAndGlyphs" stroke="#2424d2" stroke-width="0.4">10</text>
<text x="660.05" y="1150.5" font-size="32.8" fill="#2424d2" font-weight="normal" textLength="39.58" lengthAdjust="spacingAndGlyphs" stroke="#2424d2" stroke-width="0.4">11</text>
<text x="767.03" y="1150.5" font-size="32.8" fill="#2424d2" font-weight="normal" textLength="38.16" lengthAdjust="spacingAndGlyphs" stroke="#2424d2" stroke-width="0.4">12</text>
<text x="874.55" y="1150.5" font-size="32.8" fill="#2424d2" font-weight="normal" textLength="38.88" lengthAdjust="spacingAndGlyphs" stroke="#2424d2" stroke-width="0.4">13</text>
<text x="980.91" y="1150.5" font-size="32.8" fill="#2424d2" font-weight="normal" textLength="38.53" lengthAdjust="spacingAndGlyphs" stroke="#2424d2" stroke-width="0.4">14</text>
<text x="1088.19" y="1150.5" font-size="32.8" fill="#2424d2" font-weight="normal" textLength="38.61" lengthAdjust="spacingAndGlyphs" stroke="#2424d2" stroke-width="0.4">15</text>
<text x="1195.33" y="1150.5" font-size="32.8" fill="#2424d2" font-weight="normal" textLength="39.49" lengthAdjust="spacingAndGlyphs" stroke="#2424d2" stroke-width="0.4">16</text>
<text x="1302.35" y="1150.5" font-size="32.8" fill="#2424d2" font-weight="normal" textLength="38.69" lengthAdjust="spacingAndGlyphs" stroke="#2424d2" stroke-width="0.4">17</text>
<text x="1409.63" y="1150.5" font-size="32.8" fill="#2424d2" font-weight="normal" textLength="39.30" lengthAdjust="spacingAndGlyphs" stroke="#2424d2" stroke-width="0.4">18</text>
<text x="1517.07" y="1150.5" font-size="32.8" fill="#2424d2" font-weight="normal" textLength="39.23" lengthAdjust="spacingAndGlyphs" stroke="#2424d2" stroke-width="0.4">19</text>
<text x="1623.50" y="1150.5" font-size="32.8" fill="#2424d2" font-weight="normal" textLength="39.45" lengthAdjust="spacingAndGlyphs" stroke="#2424d2" stroke-width="0.4">20</text>
<text x="1732.95" y="1150.5" font-size="32.8" fill="#2424d2" font-weight="normal" textLength="38.55" lengthAdjust="spacingAndGlyphs" stroke="#2424d2" stroke-width="0.4">21</text>
<text x="1840.99" y="1150.5" font-size="32.8" fill="#2424d2" font-weight="normal" textLength="38.28" lengthAdjust="spacingAndGlyphs" stroke="#2424d2" stroke-width="0.4">22</text>
<text x="1949.14" y="1150.5" font-size="32.8" fill="#2424d2" font-weight="normal" textLength="38.98" lengthAdjust="spacingAndGlyphs" stroke="#2424d2" stroke-width="0.4">23</text>
<text x="2052.99" y="1150.5" font-size="32.8" fill="#2424d2" font-weight="normal" textLength="38.54" lengthAdjust="spacingAndGlyphs" stroke="#2424d2" stroke-width="0.4">00</text>
<text x="2161.72" y="1150.5" font-size="32.8" fill="#2424d2" font-weight="normal" textLength="37.66" lengthAdjust="spacingAndGlyphs" stroke="#2424d2" stroke-width="0.4">01</text>
<text x="2270.25" y="1150.5" font-size="32.8" fill="#2424d2" font-weight="normal" textLength="37.40" lengthAdjust="spacingAndGlyphs" stroke="#2424d2" stroke-width="0.4">02</text>
<text x="2373.51" y="1150.5" font-size="32.8" fill="#2424d2" font-weight="normal" textLength="38.08" lengthAdjust="spacingAndGlyphs" stroke="#2424d2" stroke-width="0.4">03</text>
<text x="2483.55" y="1150.5" font-size="32.8" fill="#2424d2" font-weight="normal" textLength="37.77" lengthAdjust="spacingAndGlyphs" stroke="#2424d2" stroke-width="0.4">04</text>
<text x="2590.64" y="1150.5" font-size="32.8" fill="#2424d2" font-weight="normal" textLength="37.83" lengthAdjust="spacingAndGlyphs" stroke="#2424d2" stroke-width="0.4">05</text>
<text x="2697.63" y="1150.5" font-size="32.8" fill="#2424d2" font-weight="normal" textLength="38.65" lengthAdjust="spacingAndGlyphs" stroke="#2424d2" stroke-width="0.4">06</text>
<text x="2787.39" y="1150.5" font-size="32.6" fill="#1a1a1a" font-weight="normal" textLength="72.05" lengthAdjust="spacingAndGlyphs" stroke="#1a1a1a" stroke-width="0.35">hour</text>
<text x="152.33" y="1279.8" font-size="37.8" fill="#333333" font-weight="normal" textLength="102.03" lengthAdjust="spacingAndGlyphs" stroke="#2e2e2e" stroke-width="0.8">T_min</text>
<text x="265.70" y="1279.8" font-size="37.8" fill="#333333" font-weight="normal" textLength="29.81" lengthAdjust="spacingAndGlyphs" stroke="#2e2e2e" stroke-width="0.8">=</text>
<text x="303.21" y="1279.8" font-size="37.8" fill="#e8303a" font-weight="normal" textLength="90.00" lengthAdjust="spacingAndGlyphs" stroke="#e8303a" stroke-width="0.8">-17.5</text>
<text x="404.23" y="1279.8" font-size="37.8" fill="#333333" font-weight="normal" textLength="93.30" lengthAdjust="spacingAndGlyphs" stroke="#2e2e2e" stroke-width="0.8">[st.C]</text>
<text x="152.77" y="1324.7" font-size="37.8" fill="#333333" font-weight="normal" textLength="201.17" lengthAdjust="spacingAndGlyphs" stroke="#2e2e2e" stroke-width="0.8">28.12.2025</text>
<text x="365.75" y="1324.7" font-size="37.8" fill="#333333" font-weight="normal" textLength="101.66" lengthAdjust="spacingAndGlyphs" stroke="#2e2e2e" stroke-width="0.8">05:40</text>
<text x="479.28" y="1324.7" font-size="37.8" fill="#333333" font-weight="normal" textLength="70.56" lengthAdjust="spacingAndGlyphs" stroke="#2e2e2e" stroke-width="0.8">UTC</text>
<text x="2517.00" y="1324.7" font-size="37.8" fill="#333333" font-weight="normal" textLength="183.32" lengthAdjust="spacingAndGlyphs" stroke="#2e2e2e" stroke-width="0.8">AutoGraph</text>
<text x="2709.61" y="1324.7" font-size="37.8" fill="#333333" font-weight="normal" textLength="136.22" lengthAdjust="spacingAndGlyphs" stroke="#2e2e2e" stroke-width="0.8">[version</text>
<text x="2856.48" y="1324.7" font-size="37.8" fill="#333333" font-weight="normal" textLength="128.19" lengthAdjust="spacingAndGlyphs" stroke="#2e2e2e" stroke-width="0.8">2.0.30]</text>
</g>
<g id="overlays" filter="url(#soft2)">
<g id="logo">
<rect x="198.2" y="848.2" width="354.3" height="201.3" fill="#ffffff"/>
<g transform="translate(300,845) scale(0.076278)" fill="#0b57a0">
<ellipse cx="708" cy="255" rx="112" ry="163"/>
<ellipse cx="1292" cy="255" rx="120" ry="163"/>
<path d="M960,90 C1090,90 1150,170 1150,255 C1150,340 1090,420 960,420 Z"/>
<rect x="790" y="243" width="200" height="38"/>
<rect x="960" y="90" width="65" height="1035"/>
<rect x="400" y="700" width="1100" height="46"/>
<path d="M262,665 L430,665 L430,775 L262,775 C225,775 205,750 205,720 C205,690 225,665 262,665 Z"/>
<polygon points="1485,510 1760,400 1760,1055 1485,940"/>
</g>
<g transform="translate(195,925) scale(0.069881)" fill="#0b57a0">
<path d="M290,145 L1340,145 L1340,215 L520,215 Q480,215 480,252 Q480,290 520,290 L870,290 C1010,290 1110,390 1110,520 L1110,620 C1110,750 1010,840 870,840 L95,840 L95,780 L700,780 Q740,780 740,730 Q740,680 700,680 L320,680 C190,680 100,590 100,470 L100,340 C100,230 180,145 290,145 Z"/>
<rect x="1340" y="145" width="415" height="695"/>
<rect x="1235" y="780" width="110" height="60"/>
<rect x="1750" y="437" width="240" height="73"/>
<rect x="1982" y="145" width="411" height="695"/>
<polygon points="2393,145 3063,145 3253,365 3433,145 3833,145 3833,780 3931,780 3931,840 3303,840 3303,780 3443,780 3443,340 3053,840 2688,350 2688,780 2793,780 2793,840 2388,840 2388,780 2613,780 2613,215 2393,215"/>
<rect x="3824" y="145" width="215" height="70"/>
<path d="M4034,145 L4449,145 L4449,560 C4449,700 4554,775 4714,775 C4884,775 4999,690 4999,560 L4999,145 L5074,145 L5074,570 C5074,740 4954,840 4784,840 L4434,840 C4194,840 4034,740 4034,560 Z"/>
<rect x="4624" y="145" width="205" height="240"/>
</g>
<path d="M201.30,997.28 L202.91,997.90 L204.51,998.46 L206.12,998.95 L207.73,999.37 L209.33,999.74 L210.94,1000.04 L212.55,1000.29 L214.16,1000.47 L215.76,1000.61 L217.37,1000.68 L218.98,1000.70 L220.58,1000.66 L222.19,1000.57 L223.80,1000.42 L225.40,1000.21 L227.01,999.94 L228.62,999.62 L230.22,999.23 L231.83,998.78 L233.44,998.27 L235.05,997.70 L236.65,997.05 L238.26,996.33 L239.87,995.54 L241.47,994.66 L243.08,993.70 L244.69,992.65 L246.29,991.50 L247.90,990.23 L248.30,989.90 L249.51,990.88 L251.11,992.09 L252.72,993.19 L253.20,993.50 L254.33,994.20 L255.94,995.11 L257.54,995.95 L259.15,996.70 L260.76,997.38 L262.36,997.99 L263.97,998.54 L265.58,999.02 L267.18,999.43 L268.79,999.79 L270.40,1000.08 L272.00,1000.32 L273.61,1000.50 L275.22,1000.62 L276.82,1000.69 L278.43,1000.70 L280.04,1000.65 L281.65,1000.55 L283.25,1000.39 L284.86,1000.17 L286.47,999.89 L288.07,999.56 L289.68,999.16 L291.29,998.71 L292.89,998.19 L294.50,997.60 L296.11,996.94 L297.71,996.21 L299.32,995.40 L300.93,994.51 L302.54,993.54 L304.14,992.47 L305.75,991.30 L307.36,990.02 L307.50,989.90 L308.96,991.08 L310.57,992.27 L312.18,993.36 L312.40,993.50 L313.78,994.35 L315.39,995.25 L317.00,996.07 L318.60,996.81 L320.21,997.48 L321.82,998.09 L323.43,998.62 L325.03,999.09 L326.64,999.49 L328.25,999.84 L329.85,1000.13 L331.46,1000.35 L333.07,1000.52 L334.67,1000.64 L336.28,1000.69 L337.89,1000.69 L339.49,1000.64 L341.10,1000.53 L342.71,1000.36 L344.32,1000.13 L345.92,999.85 L347.53,999.50 L349.14,999.10 L350.74,998.63 L352.35,998.10 L353.96,997.50 L355.56,996.83 L357.17,996.09 L358.78,995.27 L360.38,994.37 L361.99,993.38 L363.60,992.29 L365.21,991.11 L366.70,989.90 L366.81,989.99 L368.42,991.28 L370.03,992.45 L371.60,993.50 L371.63,993.52 L373.24,994.50 L374.85,995.39 L376.45,996.19 L378.06,996.93 L379.67,997.58 L381.27,998.17 L382.88,998.70 L384.49,999.16 L386.09,999.55 L387.70,999.89 L389.31,1000.17 L390.92,1000.38 L392.52,1000.54 L394.13,1000.65 L395.74,1000.70 L397.34,1000.69 L398.95,1000.62 L400.56,1000.50 L402.16,1000.32 L403.77,1000.09 L405.38,999.79 L406.98,999.44 L408.59,999.03 L410.20,998.55 L411.81,998.01 L413.41,997.40 L415.02,996.72 L416.63,995.96 L418.23,995.13 L419.84,994.21 L421.45,993.21 L423.05,992.11 L424.66,990.91 L425.90,989.90 L426.27,990.21 L427.87,991.47 L429.48,992.63 L430.80,993.50 L431.09,993.68 L432.70,994.64 L434.30,995.52 L435.91,996.32 L437.52,997.04 L439.12,997.68 L440.73,998.26 L442.34,998.77 L443.94,999.22 L445.55,999.61 L447.16,999.94 L448.76,1000.20 L450.37,1000.41 L451.98,1000.56 L453.59,1000.66 L455.19,1000.70 L456.80,1000.68 L458.41,1000.61 L460.01,1000.48 L461.62,1000.29 L463.23,1000.05 L464.83,999.74 L466.44,999.38 L468.05,998.95 L469.65,998.47 L471.26,997.91 L472.87,997.29 L474.48,996.60 L476.08,995.83 L477.69,994.99 L479.30,994.06 L480.90,993.04 L482.51,991.93 L484.12,990.70 L485.10,989.90 L485.72,990.42 L487.33,991.66 L488.94,992.80 L490.00,993.50 L490.54,993.84 L492.15,994.79 L493.76,995.65 L495.36,996.44 L496.97,997.14 L498.58,997.78 L500.19,998.35 L501.79,998.85 L503.40,999.29 L505.01,999.67 L506.61,999.98 L508.22,1000.24 L509.83,1000.44 L511.43,1000.58 L513.04,1000.67 L514.65,1000.70 L516.25,1000.67 L517.86,1000.59 L519.47,1000.45 L521.08,1000.26 L522.68,1000.00 L524.29,999.69 L525.90,999.32 L527.50,998.88 L529.11,998.38 L530.72,997.82 L532.32,997.19 L533.93,996.48 L535.54,995.71 L537.14,994.85 L538.75,993.90 L540.36,992.87 L541.97,991.74 L543.57,990.50 L544.30,989.90 L545.18,990.62 L546.79,991.85 L548.39,992.97 L549.20,993.50 L550.00,994.00 L550.00,998.56 L549.20,997.90 L548.39,998.56 L546.79,999.80 L545.18,1000.92 L544.30,1001.50 L543.57,1001.95 L541.97,1002.89 L540.36,1003.75 L538.75,1004.52 L537.14,1005.22 L535.54,1005.85 L533.93,1006.41 L532.32,1006.90 L530.72,1007.34 L529.11,1007.71 L527.50,1008.02 L525.90,1008.27 L524.29,1008.46 L522.68,1008.60 L521.08,1008.68 L519.47,1008.70 L517.86,1008.67 L516.25,1008.58 L514.65,1008.43 L513.04,1008.23 L511.43,1007.97 L509.83,1007.65 L508.22,1007.27 L506.61,1006.83 L505.01,1006.32 L503.40,1005.75 L501.79,1005.11 L500.19,1004.40 L498.58,1003.61 L496.97,1002.74 L495.36,1001.79 L493.76,1000.75 L492.15,999.60 L490.54,998.35 L490.00,997.90 L488.94,998.77 L487.33,999.98 L485.72,1001.09 L485.10,1001.50 L484.12,1002.11 L482.51,1003.03 L480.90,1003.87 L479.30,1004.64 L477.69,1005.32 L476.08,1005.94 L474.48,1006.49 L472.87,1006.98 L471.26,1007.40 L469.65,1007.76 L468.05,1008.06 L466.44,1008.30 L464.83,1008.49 L463.23,1008.61 L461.62,1008.68 L460.01,1008.70 L458.41,1008.66 L456.80,1008.56 L455.19,1008.40 L453.59,1008.19 L451.98,1007.92 L450.37,1007.59 L448.76,1007.20 L447.16,1006.75 L445.55,1006.24 L443.94,1005.65 L442.34,1005.00 L440.73,1004.28 L439.12,1003.48 L437.52,1002.60 L435.91,1001.63 L434.30,1000.57 L432.70,999.41 L431.09,998.14 L430.80,997.90 L429.48,998.97 L427.87,1000.17 L426.27,1001.26 L425.90,1001.50 L424.66,1002.26 L423.05,1003.17 L421.45,1004.00 L419.84,1004.75 L418.23,1005.43 L416.63,1006.03 L415.02,1006.57 L413.41,1007.05 L411.81,1007.46 L410.20,1007.81 L408.59,1008.10 L406.98,1008.33 L405.38,1008.51 L403.77,1008.63 L402.16,1008.69 L400.56,1008.70 L398.95,1008.64 L397.34,1008.54 L395.74,1008.37 L394.13,1008.15 L392.52,1007.87 L390.92,1007.53 L389.31,1007.14 L387.70,1006.67 L386.09,1006.15 L384.49,1005.55 L382.88,1004.89 L381.27,1004.16 L379.67,1003.34 L378.06,1002.45 L376.45,1001.47 L374.85,1000.39 L373.24,999.22 L371.63,997.93 L371.60,997.90 L370.03,999.17 L368.42,1000.35 L366.81,1001.43 L366.70,1001.50 L365.21,1002.41 L363.60,1003.31 L361.99,1004.12 L360.38,1004.86 L358.78,1005.53 L357.17,1006.12 L355.56,1006.65 L353.96,1007.12 L352.35,1007.52 L350.74,1007.86 L349.14,1008.14 L347.53,1008.37 L345.92,1008.53 L344.32,1008.64 L342.71,1008.69 L341.10,1008.69 L339.49,1008.63 L337.89,1008.52 L336.28,1008.34 L334.67,1008.11 L333.07,1007.82 L331.46,1007.48 L329.85,1007.07 L328.25,1006.59 L326.64,1006.06 L325.03,1005.45 L323.43,1004.78 L321.82,1004.03 L320.21,1003.21 L318.60,1002.30 L317.00,1001.30 L315.39,1000.21 L313.78,999.02 L312.40,997.90 L312.18,998.09 L310.57,999.36 L308.96,1000.53 L307.50,1001.50 L307.36,1001.59 L305.75,1002.56 L304.14,1003.44 L302.54,1004.25 L300.93,1004.97 L299.32,1005.63 L297.71,1006.21 L296.11,1006.73 L294.50,1007.19 L292.89,1007.58 L291.29,1007.91 L289.68,1008.18 L288.07,1008.40 L286.47,1008.55 L284.86,1008.65 L283.25,1008.70 L281.65,1008.69 L280.04,1008.62 L278.43,1008.49 L276.82,1008.31 L275.22,1008.07 L273.61,1007.77 L272.00,1007.41 L270.40,1006.99 L268.79,1006.51 L267.18,1005.97 L265.58,1005.35 L263.97,1004.67 L262.36,1003.91 L260.76,1003.07 L259.15,1002.15 L257.54,1001.14 L255.94,1000.03 L254.33,998.82 L253.20,997.90 L252.72,998.30 L251.11,999.55 L249.51,1000.70 L248.30,1001.50 L247.90,1001.75 L246.29,1002.71 L244.69,1003.58 L243.08,1004.37 L241.47,1005.08 L239.87,1005.73 L238.26,1006.30 L236.65,1006.81 L235.05,1007.25 L233.44,1007.63 L231.83,1007.96 L230.22,1008.22 L228.62,1008.43 L227.01,1008.57 L225.40,1008.66 L223.80,1008.70 L222.19,1008.68 L220.58,1008.60 L218.98,1008.47 L217.37,1008.28 L215.76,1008.03 L214.16,1007.72 L212.55,1007.35 L210.94,1006.92 L209.33,1006.43 L207.73,1005.87 L206.12,1005.25 L204.51,1004.55 L202.91,1003.78 L201.30,1002.93 Z" fill="#0b57a0"/>
<path d="M201.30,1012.65 L202.91,1013.61 L204.51,1014.48 L206.12,1015.27 L207.73,1015.98 L209.33,1016.63 L210.94,1017.20 L212.55,1017.71 L214.16,1018.15 L215.76,1018.53 L217.37,1018.86 L218.98,1019.12 L220.58,1019.33 L222.19,1019.47 L223.80,1019.56 L225.40,1019.60 L227.01,1019.58 L228.62,1019.50 L230.22,1019.37 L231.83,1019.18 L233.44,1018.93 L235.05,1018.62 L236.65,1018.25 L238.26,1017.82 L239.87,1017.33 L241.47,1016.77 L243.08,1016.15 L244.69,1015.45 L246.29,1014.68 L247.90,1013.83 L249.51,1012.89 L251.11,1011.87 L252.72,1010.75 L254.33,1009.52 L255.20,1008.80 L255.94,1009.41 L257.54,1010.65 L259.15,1011.78 L260.10,1012.40 L260.76,1012.81 L262.36,1013.75 L263.97,1014.61 L265.58,1015.39 L267.18,1016.09 L268.79,1016.72 L270.40,1017.29 L272.00,1017.78 L273.61,1018.22 L275.22,1018.59 L276.82,1018.90 L278.43,1019.16 L280.04,1019.35 L281.65,1019.49 L283.25,1019.57 L284.86,1019.60 L286.47,1019.57 L288.07,1019.48 L289.68,1019.34 L291.29,1019.14 L292.89,1018.88 L294.50,1018.56 L296.11,1018.19 L297.71,1017.75 L299.32,1017.25 L300.93,1016.68 L302.54,1016.04 L304.14,1015.33 L305.75,1014.55 L307.36,1013.68 L308.96,1012.74 L310.57,1011.70 L312.18,1010.56 L313.78,1009.31 L314.40,1008.80 L315.39,1009.61 L317.00,1010.83 L318.60,1011.95 L319.30,1012.40 L320.21,1012.97 L321.82,1013.89 L323.43,1014.74 L325.03,1015.50 L326.64,1016.20 L328.25,1016.82 L329.85,1017.37 L331.46,1017.86 L333.07,1018.28 L334.67,1018.64 L336.28,1018.95 L337.89,1019.19 L339.49,1019.38 L341.10,1019.51 L342.71,1019.58 L344.32,1019.60 L345.92,1019.56 L347.53,1019.46 L349.14,1019.31 L350.74,1019.10 L352.35,1018.84 L353.96,1018.51 L355.56,1018.12 L357.17,1017.67 L358.78,1017.16 L360.38,1016.58 L361.99,1015.93 L363.60,1015.21 L365.21,1014.42 L366.81,1013.54 L368.42,1012.58 L370.03,1011.52 L371.63,1010.37 L373.24,1009.10 L373.60,1008.80 L374.85,1009.81 L376.45,1011.02 L378.06,1012.12 L378.50,1012.40 L379.67,1013.12 L381.27,1014.03 L382.88,1014.86 L384.49,1015.62 L386.09,1016.30 L387.70,1016.91 L389.31,1017.45 L390.92,1017.93 L392.52,1018.34 L394.13,1018.70 L395.74,1018.99 L397.34,1019.23 L398.95,1019.40 L400.56,1019.52 L402.16,1019.59 L403.77,1019.60 L405.38,1019.55 L406.98,1019.44 L408.59,1019.28 L410.20,1019.06 L411.81,1018.79 L413.41,1018.45 L415.02,1018.05 L416.63,1017.60 L418.23,1017.07 L419.84,1016.48 L421.45,1015.82 L423.05,1015.09 L424.66,1014.28 L426.27,1013.39 L427.87,1012.42 L429.48,1011.34 L431.09,1010.17 L432.70,1008.89 L432.80,1008.80 L434.30,1010.01 L435.91,1011.20 L437.52,1012.28 L437.70,1012.40 L439.12,1013.27 L440.73,1014.17 L442.34,1014.99 L443.94,1015.73 L445.55,1016.40 L447.16,1017.00 L448.76,1017.53 L450.37,1018.00 L451.98,1018.40 L453.59,1018.75 L455.19,1019.03 L456.80,1019.26 L458.41,1019.43 L460.01,1019.54 L461.62,1019.59 L463.23,1019.59 L464.83,1019.54 L466.44,1019.42 L468.05,1019.25 L469.65,1019.02 L471.26,1018.74 L472.87,1018.39 L474.48,1017.99 L476.08,1017.52 L477.69,1016.98 L479.30,1016.38 L480.90,1015.71 L482.51,1014.97 L484.12,1014.15 L485.72,1013.24 L487.33,1012.25 L488.94,1011.17 L490.54,1009.98 L492.00,1008.80 L492.15,1008.93 L493.76,1010.21 L495.36,1011.38 L496.90,1012.40 L496.97,1012.44 L498.58,1013.42 L500.19,1014.31 L501.79,1015.11 L503.40,1015.84 L505.01,1016.50 L506.61,1017.09 L508.22,1017.61 L509.83,1018.07 L511.43,1018.46 L513.04,1018.80 L514.65,1019.07 L516.25,1019.29 L517.86,1019.45 L519.47,1019.55 L521.08,1019.60 L522.68,1019.59 L524.29,1019.52 L525.90,1019.40 L527.50,1019.22 L529.11,1018.98 L530.72,1018.69 L532.32,1018.33 L533.93,1017.92 L535.54,1017.44 L537.14,1016.89 L538.75,1016.28 L540.36,1015.60 L541.97,1014.84 L543.57,1014.01 L545.18,1013.09 L546.79,1012.09 L548.39,1010.98 L550.00,1009.78 L550.00,1021.14 L548.39,1022.05 L546.79,1022.88 L545.18,1023.63 L543.57,1024.31 L541.97,1024.92 L540.36,1025.46 L538.75,1025.94 L537.14,1026.35 L535.54,1026.70 L533.93,1027.00 L532.32,1027.23 L530.72,1027.41 L529.11,1027.53 L527.50,1027.59 L525.90,1027.60 L524.29,1027.55 L522.68,1027.44 L521.08,1027.28 L519.47,1027.06 L517.86,1026.78 L516.25,1026.44 L514.65,1026.05 L513.04,1025.59 L511.43,1025.06 L509.83,1024.47 L508.22,1023.81 L506.61,1023.08 L505.01,1022.26 L503.40,1021.37 L501.79,1020.39 L500.19,1019.32 L498.58,1018.15 L496.97,1016.86 L496.90,1016.80 L495.36,1018.04 L493.76,1019.22 L492.15,1020.30 L492.00,1020.40 L490.54,1021.29 L488.94,1022.19 L487.33,1023.01 L485.72,1023.75 L484.12,1024.41 L482.51,1025.01 L480.90,1025.54 L479.30,1026.01 L477.69,1026.41 L476.08,1026.75 L474.48,1027.04 L472.87,1027.26 L471.26,1027.43 L469.65,1027.54 L468.05,1027.59 L466.44,1027.59 L464.83,1027.53 L463.23,1027.42 L461.62,1027.25 L460.01,1027.02 L458.41,1026.73 L456.80,1026.38 L455.19,1025.98 L453.59,1025.51 L451.98,1024.97 L450.37,1024.37 L448.76,1023.70 L447.16,1022.95 L445.55,1022.13 L443.94,1021.22 L442.34,1020.23 L440.73,1019.14 L439.12,1017.95 L437.70,1016.80 L437.52,1016.95 L435.91,1018.23 L434.30,1019.40 L432.80,1020.40 L432.70,1020.47 L431.09,1021.44 L429.48,1022.32 L427.87,1023.13 L426.27,1023.86 L424.66,1024.51 L423.05,1025.10 L421.45,1025.62 L419.84,1026.08 L418.23,1026.47 L416.63,1026.80 L415.02,1027.08 L413.41,1027.29 L411.81,1027.45 L410.20,1027.55 L408.59,1027.60 L406.98,1027.59 L405.38,1027.52 L403.77,1027.40 L402.16,1027.22 L400.56,1026.98 L398.95,1026.68 L397.34,1026.32 L395.74,1025.91 L394.13,1025.43 L392.52,1024.88 L390.92,1024.27 L389.31,1023.58 L387.70,1022.83 L386.09,1021.99 L384.49,1021.07 L382.88,1020.06 L381.27,1018.96 L379.67,1017.75 L378.50,1016.80 L378.06,1017.17 L376.45,1018.43 L374.85,1019.58 L373.60,1020.40 L373.24,1020.63 L371.63,1021.58 L370.03,1022.46 L368.42,1023.25 L366.81,1023.97 L365.21,1024.61 L363.60,1025.19 L361.99,1025.70 L360.38,1026.14 L358.78,1026.53 L357.17,1026.85 L355.56,1027.11 L353.96,1027.32 L352.35,1027.47 L350.74,1027.56 L349.14,1027.60 L347.53,1027.58 L345.92,1027.50 L344.32,1027.37 L342.71,1027.18 L341.10,1026.93 L339.49,1026.63 L337.89,1026.26 L336.28,1025.83 L334.67,1025.34 L333.07,1024.79 L331.46,1024.16 L329.85,1023.47 L328.25,1022.70 L326.64,1021.85 L325.03,1020.92 L323.43,1019.89 L321.82,1018.77 L320.21,1017.55 L319.30,1016.80 L318.60,1017.37 L317.00,1018.62 L315.39,1019.75 L314.40,1020.40 L313.78,1020.78 L312.18,1021.73 L310.57,1022.59 L308.96,1023.37 L307.36,1024.07 L305.75,1024.71 L304.14,1025.27 L302.54,1025.77 L300.93,1026.21 L299.32,1026.58 L297.71,1026.90 L296.11,1027.15 L294.50,1027.35 L292.89,1027.49 L291.29,1027.57 L289.68,1027.60 L288.07,1027.57 L286.47,1027.49 L284.86,1027.34 L283.25,1027.15 L281.65,1026.89 L280.04,1026.57 L278.43,1026.20 L276.82,1025.76 L275.22,1025.26 L273.61,1024.69 L272.00,1024.06 L270.40,1023.35 L268.79,1022.57 L267.18,1021.71 L265.58,1020.76 L263.97,1019.72 L262.36,1018.59 L260.76,1017.34 L260.10,1016.80 L259.15,1017.58 L257.54,1018.80 L255.94,1019.92 L255.20,1020.40 L254.33,1020.94 L252.72,1021.87 L251.11,1022.72 L249.51,1023.49 L247.90,1024.18 L246.29,1024.80 L244.69,1025.36 L243.08,1025.85 L241.47,1026.27 L239.87,1026.64 L238.26,1026.94 L236.65,1027.19 L235.05,1027.37 L233.44,1027.51 L231.83,1027.58 L230.22,1027.60 L228.62,1027.56 L227.01,1027.47 L225.40,1027.32 L223.80,1027.11 L222.19,1026.84 L220.58,1026.52 L218.98,1026.13 L217.37,1025.68 L215.76,1025.17 L214.16,1024.60 L212.55,1023.95 L210.94,1023.23 L209.33,1022.44 L207.73,1021.56 L206.12,1020.60 L204.51,1019.55 L202.91,1018.40 L201.30,1017.13 Z" fill="#0b57a0"/>
<path d="M201.30,1027.41 L201.80,1027.00 L202.91,1027.90 L204.51,1029.12 L206.12,1030.22 L206.70,1030.60 L207.73,1031.24 L209.33,1032.16 L210.94,1033.00 L212.55,1033.76 L214.16,1034.44 L215.76,1035.06 L217.37,1035.61 L218.98,1036.09 L220.58,1036.51 L222.19,1036.87 L223.80,1037.17 L225.40,1037.41 L227.01,1037.59 L228.62,1037.72 L230.22,1037.78 L231.83,1037.80 L233.44,1037.75 L235.05,1037.66 L236.65,1037.50 L238.26,1037.29 L239.87,1037.01 L241.47,1036.68 L243.08,1036.29 L244.69,1035.84 L246.29,1035.32 L247.90,1034.74 L249.51,1034.08 L251.11,1033.36 L252.72,1032.56 L254.33,1031.67 L255.94,1030.70 L257.54,1029.64 L259.15,1028.48 L260.76,1027.20 L261.00,1027.00 L262.36,1028.10 L263.97,1029.30 L265.58,1030.39 L265.90,1030.60 L267.18,1031.39 L268.79,1032.30 L270.40,1033.12 L272.00,1033.87 L273.61,1034.54 L275.22,1035.15 L276.82,1035.69 L278.43,1036.16 L280.04,1036.57 L281.65,1036.92 L283.25,1037.21 L284.86,1037.44 L286.47,1037.61 L288.07,1037.73 L289.68,1037.79 L291.29,1037.79 L292.89,1037.74 L294.50,1037.63 L296.11,1037.47 L297.71,1037.25 L299.32,1036.96 L300.93,1036.62 L302.54,1036.22 L304.14,1035.76 L305.75,1035.23 L307.36,1034.64 L308.96,1033.97 L310.57,1033.23 L312.18,1032.42 L313.78,1031.52 L315.39,1030.54 L317.00,1029.46 L318.60,1028.28 L320.20,1027.00 L320.21,1027.01 L321.82,1028.30 L323.43,1029.48 L325.03,1030.56 L325.10,1030.60 L326.64,1031.54 L328.25,1032.43 L329.85,1033.25 L331.46,1033.98 L333.07,1034.65 L334.67,1035.24 L336.28,1035.77 L337.89,1036.23 L339.49,1036.63 L341.10,1036.97 L342.71,1037.25 L344.32,1037.47 L345.92,1037.64 L347.53,1037.74 L349.14,1037.80 L350.74,1037.79 L352.35,1037.73 L353.96,1037.61 L355.56,1037.44 L357.17,1037.21 L358.78,1036.91 L360.38,1036.56 L361.99,1036.15 L363.60,1035.68 L365.21,1035.14 L366.81,1034.54 L368.42,1033.86 L370.03,1033.11 L371.63,1032.28 L373.24,1031.37 L374.85,1030.38 L376.45,1029.28 L378.06,1028.09 L379.40,1027.00 L379.67,1027.22 L381.27,1028.50 L382.88,1029.66 L384.30,1030.60 L384.49,1030.72 L386.09,1031.69 L387.70,1032.57 L389.31,1033.37 L390.92,1034.09 L392.52,1034.74 L394.13,1035.33 L395.74,1035.84 L397.34,1036.30 L398.95,1036.69 L400.56,1037.02 L402.16,1037.29 L403.77,1037.50 L405.38,1037.66 L406.98,1037.76 L408.59,1037.80 L410.20,1037.78 L411.81,1037.71 L413.41,1037.59 L415.02,1037.40 L416.63,1037.16 L418.23,1036.86 L419.84,1036.50 L421.45,1036.08 L423.05,1035.60 L424.66,1035.05 L426.27,1034.43 L427.87,1033.75 L429.48,1032.98 L431.09,1032.14 L432.70,1031.22 L434.30,1030.21 L435.91,1029.10 L437.52,1027.88 L438.60,1027.00 L439.12,1027.43 L440.73,1028.69 L442.34,1029.83 L443.50,1030.60 L443.94,1030.88 L445.55,1031.83 L447.16,1032.70 L448.76,1033.49 L450.37,1034.20 L451.98,1034.84 L453.59,1035.41 L455.19,1035.92 L456.80,1036.36 L458.41,1036.74 L460.01,1037.06 L461.62,1037.33 L463.23,1037.53 L464.83,1037.68 L466.44,1037.77 L468.05,1037.80 L469.65,1037.78 L471.26,1037.70 L472.87,1037.56 L474.48,1037.37 L476.08,1037.12 L477.69,1036.81 L479.30,1036.44 L480.90,1036.01 L482.51,1035.52 L484.12,1034.96 L485.72,1034.33 L487.33,1033.63 L488.94,1032.86 L490.54,1032.00 L492.15,1031.07 L493.76,1030.04 L495.36,1028.91 L496.97,1027.68 L497.80,1027.00 L498.58,1027.64 L500.19,1028.88 L501.79,1030.01 L502.70,1030.60 L503.40,1031.04 L505.01,1031.98 L506.61,1032.83 L508.22,1033.61 L509.83,1034.31 L511.43,1034.94 L513.04,1035.50 L514.65,1036.00 L516.25,1036.43 L517.86,1036.80 L519.47,1037.11 L521.08,1037.36 L522.68,1037.56 L524.29,1037.69 L525.90,1037.78 L527.50,1037.80 L529.11,1037.77 L530.72,1037.68 L532.32,1037.54 L533.93,1037.33 L535.54,1037.07 L537.14,1036.76 L538.75,1036.38 L540.36,1035.94 L541.97,1035.43 L543.57,1034.86 L545.18,1034.22 L546.79,1033.51 L548.39,1032.73 L550.00,1031.86 L550.00,1042.26 L548.39,1042.89 L546.79,1043.46 L545.18,1043.96 L543.57,1044.40 L541.97,1044.77 L540.36,1045.09 L538.75,1045.34 L537.14,1045.54 L535.54,1045.69 L533.93,1045.77 L532.32,1045.80 L530.72,1045.77 L529.11,1045.69 L527.50,1045.55 L525.90,1045.35 L524.29,1045.10 L522.68,1044.78 L521.08,1044.41 L519.47,1043.97 L517.86,1043.47 L516.25,1042.91 L514.65,1042.28 L513.04,1041.57 L511.43,1040.79 L509.83,1039.93 L508.22,1038.99 L506.61,1037.95 L505.01,1036.82 L503.40,1035.58 L502.70,1035.00 L501.79,1035.74 L500.19,1036.97 L498.58,1038.09 L497.80,1038.60 L496.97,1039.11 L495.36,1040.05 L493.76,1040.90 L492.15,1041.67 L490.54,1042.36 L488.94,1042.99 L487.33,1043.54 L485.72,1044.03 L484.12,1044.46 L482.51,1044.83 L480.90,1045.13 L479.30,1045.38 L477.69,1045.57 L476.08,1045.70 L474.48,1045.78 L472.87,1045.80 L471.26,1045.76 L469.65,1045.67 L468.05,1045.52 L466.44,1045.32 L464.83,1045.05 L463.23,1044.73 L461.62,1044.34 L460.01,1043.90 L458.41,1043.39 L456.80,1042.81 L455.19,1042.17 L453.59,1041.45 L451.98,1040.66 L450.37,1039.79 L448.76,1038.83 L447.16,1037.78 L445.55,1036.63 L443.94,1035.37 L443.50,1035.00 L442.34,1035.95 L440.73,1037.16 L439.12,1038.26 L438.60,1038.60 L437.52,1039.27 L435.91,1040.19 L434.30,1041.02 L432.70,1041.78 L431.09,1042.47 L429.48,1043.08 L427.87,1043.62 L426.27,1044.10 L424.66,1044.52 L423.05,1044.88 L421.45,1045.18 L419.84,1045.41 L418.23,1045.60 L416.63,1045.72 L415.02,1045.79 L413.41,1045.80 L411.81,1045.75 L410.20,1045.65 L408.59,1045.49 L406.98,1045.28 L405.38,1045.00 L403.77,1044.67 L402.16,1044.28 L400.56,1043.82 L398.95,1043.30 L397.34,1042.71 L395.74,1042.06 L394.13,1041.33 L392.52,1040.53 L390.92,1039.64 L389.31,1038.67 L387.70,1037.60 L386.09,1036.44 L384.49,1035.16 L384.30,1035.00 L382.88,1036.15 L381.27,1037.34 L379.67,1038.43 L379.40,1038.60 L378.06,1039.42 L376.45,1040.33 L374.85,1041.15 L373.24,1041.90 L371.63,1042.57 L370.03,1043.17 L368.42,1043.70 L366.81,1044.18 L365.21,1044.58 L363.60,1044.93 L361.99,1045.22 L360.38,1045.45 L358.78,1045.62 L357.17,1045.73 L355.56,1045.79 L353.96,1045.79 L352.35,1045.74 L350.74,1045.63 L349.14,1045.46 L347.53,1045.24 L345.92,1044.95 L344.32,1044.61 L342.71,1044.21 L341.10,1043.74 L339.49,1043.21 L337.89,1042.61 L336.28,1041.95 L334.67,1041.21 L333.07,1040.39 L331.46,1039.49 L329.85,1038.51 L328.25,1037.42 L326.64,1036.24 L325.10,1035.00 L325.03,1035.06 L323.43,1036.34 L321.82,1037.52 L320.21,1038.59 L320.20,1038.60 L318.60,1039.57 L317.00,1040.46 L315.39,1041.27 L313.78,1042.01 L312.18,1042.67 L310.57,1043.26 L308.96,1043.78 L307.36,1044.24 L305.75,1044.64 L304.14,1044.98 L302.54,1045.26 L300.93,1045.48 L299.32,1045.64 L297.71,1045.75 L296.11,1045.80 L294.50,1045.79 L292.89,1045.73 L291.29,1045.61 L289.68,1045.43 L288.07,1045.20 L286.47,1044.90 L284.86,1044.55 L283.25,1044.14 L281.65,1043.66 L280.04,1043.12 L278.43,1042.51 L276.82,1041.84 L275.22,1041.08 L273.61,1040.25 L272.00,1039.34 L270.40,1038.34 L268.79,1037.24 L267.18,1036.04 L265.90,1035.00 L265.58,1035.27 L263.97,1036.54 L262.36,1037.70 L261.00,1038.60 L260.76,1038.75 L259.15,1039.72 L257.54,1040.60 L255.94,1041.39 L254.33,1042.12 L252.72,1042.77 L251.11,1043.35 L249.51,1043.86 L247.90,1044.31 L246.29,1044.70 L244.69,1045.03 L243.08,1045.30 L241.47,1045.51 L239.87,1045.66 L238.26,1045.76 L236.65,1045.80 L235.05,1045.78 L233.44,1045.71 L231.83,1045.58 L230.22,1045.40 L228.62,1045.15 L227.01,1044.85 L225.40,1044.49 L223.80,1044.07 L222.19,1043.58 L220.58,1043.03 L218.98,1042.41 L217.37,1041.72 L215.76,1040.96 L214.16,1040.11 L212.55,1039.19 L210.94,1038.17 L209.33,1037.06 L207.73,1035.84 L206.70,1035.00 L206.12,1035.48 L204.51,1036.73 L202.91,1037.87 L201.80,1038.60 L201.30,1038.91 Z" fill="#0b57a0"/>
</g>
<rect x="2179" y="386.5" width="423.3" height="154.3" fill="#ffffff" fill-opacity="0.86"/>
<text x="2207.83" y="497.1" font-size="97" fill="#7030a0" font-weight="bold" textLength="363.21" lengthAdjust="spacingAndGlyphs">-17,5 °C</text>
<polygon points="2341.2,552.8 2376,530.4 2588.8,862.2 2625.1,841.4 2640.4,981.6 2518.3,909.1 2554.1,885.1" fill="#000"/>
<text x="1185.41" y="90.6" font-size="64.7" fill="#7030a0" font-weight="bold" textLength="293.73" lengthAdjust="spacingAndGlyphs" stroke="#7030a0" stroke-width="0.6">Lomnický</text>
<text x="1495.51" y="90.6" font-size="64.7" fill="#7030a0" font-weight="bold" textLength="99.95" lengthAdjust="spacingAndGlyphs" stroke="#7030a0" stroke-width="0.6">štít</text>
<text x="1607.84" y="90.6" font-size="64.7" fill="#7030a0" font-weight="bold" textLength="35.31" lengthAdjust="spacingAndGlyphs" stroke="#7030a0" stroke-width="0.6">–</text>
<text x="1657.79" y="90.6" font-size="64.7" fill="#7030a0" font-weight="bold" textLength="213.86" lengthAdjust="spacingAndGlyphs" stroke="#7030a0" stroke-width="0.6">teplota</text>
<text x="1891.10" y="90.6" font-size="64.7" fill="#7030a0" font-weight="bold" textLength="257.89" lengthAdjust="spacingAndGlyphs" stroke="#7030a0" stroke-width="0.6">vzduchu</text>
</g>
</svg></body></html>
